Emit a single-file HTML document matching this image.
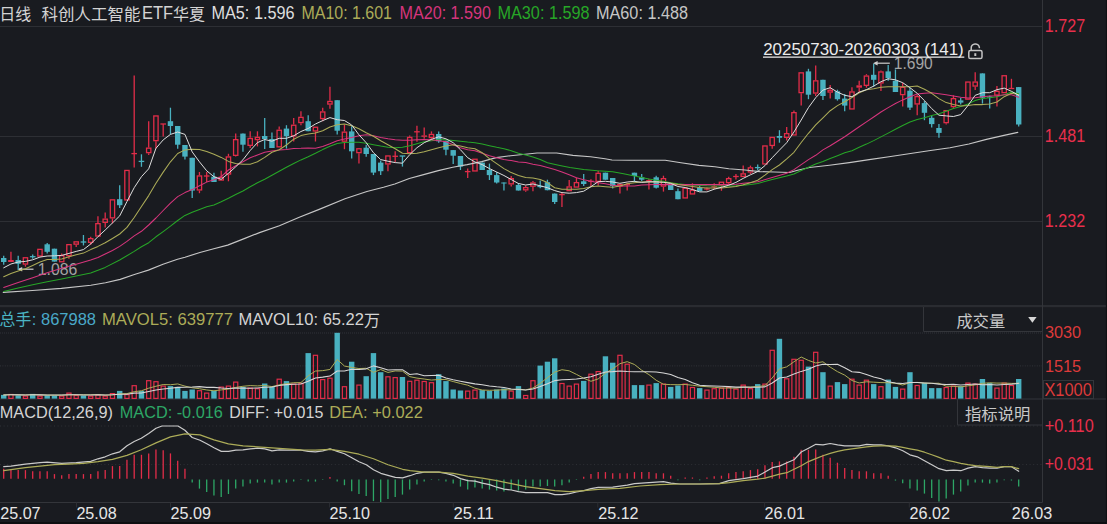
<!DOCTYPE html>
<html><head><meta charset="utf-8"><title>chart</title>
<style>html,body{margin:0;padding:0;background:#191b20;overflow:hidden}svg{display:block}text{font-family:"Liberation Sans",sans-serif;white-space:pre}</style></head>
<body>
<svg width="1107" height="524" viewBox="0 0 1107 524" font-family="'Liberation Sans', sans-serif">
<rect width="1107" height="524" fill="#191b20"/>
<line x1="0" y1="26.5" x2="1042.5" y2="26.5" stroke="#2d2f34" stroke-width="1"/>
<line x1="0" y1="136.5" x2="1042.5" y2="136.5" stroke="#2d2f34" stroke-width="1"/>
<line x1="0" y1="221.5" x2="1042.5" y2="221.5" stroke="#2d2f34" stroke-width="1"/>
<rect x="0" y="305" width="1107" height="2.2" fill="#2a2c31"/>
<line x1="1042.5" y1="0" x2="1042.5" y2="502.5" stroke="#33353a" stroke-width="1"/>
<line x1="0" y1="333" x2="1042.5" y2="333" stroke="#313338" stroke-width="1" stroke-dasharray="1 1"/>
<line x1="0" y1="365.9" x2="1042.5" y2="365.9" stroke="#313338" stroke-width="1" stroke-dasharray="1 1.4"/>
<line x1="0" y1="399" x2="1107" y2="399" stroke="#33353a" stroke-width="1"/>
<line x1="0" y1="426" x2="1042.5" y2="426" stroke="#303237" stroke-width="1" stroke-dasharray="1 2.6"/>
<line x1="0" y1="464.6" x2="1042.5" y2="464.6" stroke="#303237" stroke-width="1" stroke-dasharray="1 2.6"/>
<line x1="0" y1="502.5" x2="1042.5" y2="502.5" stroke="#33353a" stroke-width="1"/>
<line x1="76.5" y1="502.5" x2="76.5" y2="507.5" stroke="#2c2e33" stroke-width="1"/>
<line x1="170.5" y1="502.5" x2="170.5" y2="507.5" stroke="#2c2e33" stroke-width="1"/>
<line x1="329.6" y1="502.5" x2="329.6" y2="507.5" stroke="#2c2e33" stroke-width="1"/>
<line x1="453.3" y1="502.5" x2="453.3" y2="507.5" stroke="#2c2e33" stroke-width="1"/>
<line x1="597.8" y1="502.5" x2="597.8" y2="507.5" stroke="#2c2e33" stroke-width="1"/>
<line x1="764.6" y1="502.5" x2="764.6" y2="507.5" stroke="#2c2e33" stroke-width="1"/>
<line x1="909.3" y1="502.5" x2="909.3" y2="507.5" stroke="#2c2e33" stroke-width="1"/>
<line x1="1011.1" y1="502.5" x2="1011.1" y2="507.5" stroke="#2c2e33" stroke-width="1"/>
<line x1="19" y1="269.2" x2="33.5" y2="269.2" stroke="#cfcfcf" stroke-width="1.2"/>
<path d="M17.6,269.2 L22.2,266.9 L22.2,271.5 Z" fill="#cfcfcf"/>
<text x="37.8" y="275.3" fill="#a4a4a4" font-size="16.4" textLength="39.6" lengthAdjust="spacingAndGlyphs" text-anchor="start">1.086</text>
<line x1="875" y1="63.2" x2="889.8" y2="63.2" stroke="#cfcfcf" stroke-width="1.2"/>
<path d="M873,63.2 L877.6,60.9 L877.6,65.5 Z" fill="#cfcfcf"/>
<text x="893.8" y="69.4" fill="#a4a4a4" font-size="16.4" textLength="39" lengthAdjust="spacingAndGlyphs" text-anchor="start">1.690</text>
<line x1="3.7" y1="255.8" x2="3.7" y2="264.7" stroke="#49b1c0" stroke-width="1.3"/>
<rect x="1" y="258" width="5.4" height="4" fill="#49b1c0"/>
<line x1="10.95" y1="251.8" x2="10.95" y2="260" stroke="#e22d49" stroke-width="1.3"/>
<rect x="8.15" y="260" width="5.6" height="2" fill="#e22d49"/>
<line x1="18.2" y1="255.8" x2="18.2" y2="269.7" stroke="#49b1c0" stroke-width="1.3"/>
<rect x="15.5" y="260" width="5.4" height="3.8" fill="#49b1c0"/>
<line x1="25.45" y1="264.7" x2="25.45" y2="266.7" stroke="#e22d49" stroke-width="1.3"/>
<rect x="23.3" y="257.75" width="4.3" height="6.3" fill="none" stroke="#e22d49" stroke-width="1.3"/>
<line x1="32.7" y1="254.4" x2="32.7" y2="258.7" stroke="#49b1c0" stroke-width="1.3"/>
<line x1="29.9" y1="256.7" x2="35.5" y2="256.7" stroke="#49b1c0" stroke-width="1.3"/>
<rect x="37.8" y="249.35" width="4.3" height="6.7" fill="none" stroke="#e22d49" stroke-width="1.3"/>
<line x1="47.2" y1="243" x2="47.2" y2="253.6" stroke="#49b1c0" stroke-width="1.3"/>
<rect x="44.5" y="244.3" width="5.4" height="7.5" fill="#49b1c0"/>
<line x1="54.45" y1="248.7" x2="54.45" y2="261.6" stroke="#49b1c0" stroke-width="1.3"/>
<rect x="51.75" y="248.7" width="5.4" height="12.9" fill="#49b1c0"/>
<line x1="61.7" y1="253.4" x2="61.7" y2="255" stroke="#e22d49" stroke-width="1.3"/>
<rect x="59.55" y="255.65" width="4.3" height="6.1" fill="none" stroke="#e22d49" stroke-width="1.3"/>
<line x1="68.95" y1="256.3" x2="68.95" y2="258.7" stroke="#e22d49" stroke-width="1.3"/>
<rect x="66.8" y="244.65" width="4.3" height="11" fill="none" stroke="#e22d49" stroke-width="1.3"/>
<line x1="76.2" y1="244.8" x2="76.2" y2="247" stroke="#e22d49" stroke-width="1.3"/>
<rect x="74.05" y="241.85" width="4.3" height="2.3" fill="none" stroke="#e22d49" stroke-width="1.3"/>
<line x1="83.45" y1="235" x2="83.45" y2="245.4" stroke="#49b1c0" stroke-width="1.3"/>
<line x1="80.65" y1="242" x2="86.25" y2="242" stroke="#49b1c0" stroke-width="1.3"/>
<line x1="90.7" y1="236.7" x2="90.7" y2="238" stroke="#e22d49" stroke-width="1.3"/>
<line x1="90.7" y1="243" x2="90.7" y2="244.7" stroke="#e22d49" stroke-width="1.3"/>
<rect x="88.55" y="238.65" width="4.3" height="3.7" fill="none" stroke="#e22d49" stroke-width="1.3"/>
<line x1="97.95" y1="216.3" x2="97.95" y2="223" stroke="#e22d49" stroke-width="1.3"/>
<rect x="95.8" y="223.65" width="4.3" height="12.4" fill="none" stroke="#e22d49" stroke-width="1.3"/>
<line x1="105.2" y1="212.5" x2="105.2" y2="218.5" stroke="#e22d49" stroke-width="1.3"/>
<line x1="105.2" y1="223" x2="105.2" y2="227.4" stroke="#e22d49" stroke-width="1.3"/>
<rect x="103.05" y="219.15" width="4.3" height="3.2" fill="none" stroke="#e22d49" stroke-width="1.3"/>
<line x1="112.45" y1="218.5" x2="112.45" y2="223.4" stroke="#e22d49" stroke-width="1.3"/>
<rect x="110.3" y="199.85" width="4.3" height="18" fill="none" stroke="#e22d49" stroke-width="1.3"/>
<line x1="119.7" y1="185.3" x2="119.7" y2="208" stroke="#49b1c0" stroke-width="1.3"/>
<rect x="117" y="199.2" width="5.4" height="6" fill="#49b1c0"/>
<rect x="124.8" y="170.45" width="4.3" height="29.5" fill="none" stroke="#e22d49" stroke-width="1.3"/>
<line x1="134.2" y1="75.5" x2="134.2" y2="167.4" stroke="#e22d49" stroke-width="1.3"/>
<line x1="131.4" y1="153.6" x2="137" y2="153.6" stroke="#e22d49" stroke-width="1.3"/>
<line x1="141.45" y1="154.3" x2="141.45" y2="166.8" stroke="#49b1c0" stroke-width="1.3"/>
<line x1="138.65" y1="161.4" x2="144.25" y2="161.4" stroke="#49b1c0" stroke-width="1.3"/>
<line x1="148.7" y1="121.2" x2="148.7" y2="147.5" stroke="#e22d49" stroke-width="1.3"/>
<line x1="148.7" y1="153.3" x2="148.7" y2="154.9" stroke="#e22d49" stroke-width="1.3"/>
<rect x="146.55" y="148.15" width="4.3" height="4.5" fill="none" stroke="#e22d49" stroke-width="1.3"/>
<line x1="155.95" y1="141.3" x2="155.95" y2="148.7" stroke="#e22d49" stroke-width="1.3"/>
<rect x="153.8" y="115.95" width="4.3" height="24.7" fill="none" stroke="#e22d49" stroke-width="1.3"/>
<line x1="163.2" y1="124" x2="163.2" y2="136.5" stroke="#e22d49" stroke-width="1.3"/>
<line x1="160.4" y1="124" x2="166" y2="124" stroke="#e22d49" stroke-width="1.3"/>
<line x1="170.45" y1="107.7" x2="170.45" y2="134.5" stroke="#49b1c0" stroke-width="1.3"/>
<rect x="167.75" y="121.2" width="5.4" height="4.8" fill="#49b1c0"/>
<line x1="177.7" y1="126" x2="177.7" y2="148.7" stroke="#49b1c0" stroke-width="1.3"/>
<rect x="175" y="126" width="5.4" height="18.7" fill="#49b1c0"/>
<line x1="184.95" y1="145" x2="184.95" y2="159.6" stroke="#49b1c0" stroke-width="1.3"/>
<rect x="182.25" y="145" width="5.4" height="11.6" fill="#49b1c0"/>
<line x1="192.2" y1="157.8" x2="192.2" y2="198" stroke="#49b1c0" stroke-width="1.3"/>
<rect x="189.5" y="157.8" width="5.4" height="32.8" fill="#49b1c0"/>
<line x1="199.45" y1="172" x2="199.45" y2="175.3" stroke="#e22d49" stroke-width="1.3"/>
<line x1="199.45" y1="190.6" x2="199.45" y2="193.2" stroke="#e22d49" stroke-width="1.3"/>
<rect x="197.3" y="175.95" width="4.3" height="14" fill="none" stroke="#e22d49" stroke-width="1.3"/>
<line x1="206.7" y1="172" x2="206.7" y2="182" stroke="#e22d49" stroke-width="1.3"/>
<line x1="203.9" y1="176" x2="209.5" y2="176" stroke="#e22d49" stroke-width="1.3"/>
<line x1="213.95" y1="172.7" x2="213.95" y2="182" stroke="#49b1c0" stroke-width="1.3"/>
<rect x="211.25" y="176.7" width="5.4" height="5.3" fill="#49b1c0"/>
<line x1="221.2" y1="170.8" x2="221.2" y2="176.7" stroke="#e22d49" stroke-width="1.3"/>
<rect x="219.05" y="177.35" width="4.3" height="2.7" fill="none" stroke="#e22d49" stroke-width="1.3"/>
<line x1="228.45" y1="153.8" x2="228.45" y2="156.3" stroke="#e22d49" stroke-width="1.3"/>
<line x1="228.45" y1="174.7" x2="228.45" y2="181.3" stroke="#e22d49" stroke-width="1.3"/>
<rect x="226.3" y="156.95" width="4.3" height="17.1" fill="none" stroke="#e22d49" stroke-width="1.3"/>
<line x1="235.7" y1="133.6" x2="235.7" y2="139" stroke="#e22d49" stroke-width="1.3"/>
<line x1="235.7" y1="156" x2="235.7" y2="156.4" stroke="#e22d49" stroke-width="1.3"/>
<rect x="233.55" y="139.65" width="4.3" height="15.7" fill="none" stroke="#e22d49" stroke-width="1.3"/>
<line x1="242.95" y1="133.6" x2="242.95" y2="151.8" stroke="#49b1c0" stroke-width="1.3"/>
<rect x="240.25" y="133.6" width="5.4" height="11.1" fill="#49b1c0"/>
<line x1="250.2" y1="131.3" x2="250.2" y2="137.8" stroke="#e22d49" stroke-width="1.3"/>
<line x1="250.2" y1="146" x2="250.2" y2="148" stroke="#e22d49" stroke-width="1.3"/>
<rect x="248.05" y="138.45" width="4.3" height="6.9" fill="none" stroke="#e22d49" stroke-width="1.3"/>
<line x1="257.45" y1="131.3" x2="257.45" y2="136.7" stroke="#e22d49" stroke-width="1.3"/>
<line x1="257.45" y1="140.2" x2="257.45" y2="146.4" stroke="#e22d49" stroke-width="1.3"/>
<rect x="255.3" y="137.35" width="4.3" height="2.2" fill="none" stroke="#e22d49" stroke-width="1.3"/>
<line x1="264.7" y1="118" x2="264.7" y2="149" stroke="#49b1c0" stroke-width="1.3"/>
<rect x="262" y="136" width="5.4" height="3" fill="#49b1c0"/>
<line x1="271.95" y1="132.5" x2="271.95" y2="148" stroke="#49b1c0" stroke-width="1.3"/>
<rect x="269.25" y="139" width="5.4" height="9" fill="#49b1c0"/>
<line x1="279.2" y1="126.6" x2="279.2" y2="129.6" stroke="#e22d49" stroke-width="1.3"/>
<rect x="277.05" y="130.25" width="4.3" height="16.6" fill="none" stroke="#e22d49" stroke-width="1.3"/>
<line x1="286.45" y1="125.2" x2="286.45" y2="148.6" stroke="#49b1c0" stroke-width="1.3"/>
<rect x="283.75" y="128.6" width="5.4" height="7.6" fill="#49b1c0"/>
<line x1="293.7" y1="118" x2="293.7" y2="124.6" stroke="#e22d49" stroke-width="1.3"/>
<line x1="293.7" y1="136.5" x2="293.7" y2="141.5" stroke="#e22d49" stroke-width="1.3"/>
<rect x="291.55" y="125.25" width="4.3" height="10.6" fill="none" stroke="#e22d49" stroke-width="1.3"/>
<line x1="300.95" y1="111.3" x2="300.95" y2="116.7" stroke="#e22d49" stroke-width="1.3"/>
<line x1="300.95" y1="123.2" x2="300.95" y2="125.2" stroke="#e22d49" stroke-width="1.3"/>
<rect x="298.8" y="117.35" width="4.3" height="5.2" fill="none" stroke="#e22d49" stroke-width="1.3"/>
<line x1="308.2" y1="115.3" x2="308.2" y2="131.2" stroke="#49b1c0" stroke-width="1.3"/>
<rect x="305.5" y="121.2" width="5.4" height="10" fill="#49b1c0"/>
<line x1="315.45" y1="131.6" x2="315.45" y2="141.5" stroke="#e22d49" stroke-width="1.3"/>
<rect x="313.3" y="127.25" width="4.3" height="3.7" fill="none" stroke="#e22d49" stroke-width="1.3"/>
<line x1="322.7" y1="107.7" x2="322.7" y2="111.3" stroke="#e22d49" stroke-width="1.3"/>
<line x1="322.7" y1="119.2" x2="322.7" y2="121.2" stroke="#e22d49" stroke-width="1.3"/>
<rect x="320.55" y="111.95" width="4.3" height="6.6" fill="none" stroke="#e22d49" stroke-width="1.3"/>
<line x1="329.95" y1="86.8" x2="329.95" y2="100.8" stroke="#e22d49" stroke-width="1.3"/>
<line x1="329.95" y1="104.7" x2="329.95" y2="108.7" stroke="#e22d49" stroke-width="1.3"/>
<rect x="327.8" y="101.45" width="4.3" height="2.6" fill="none" stroke="#e22d49" stroke-width="1.3"/>
<line x1="337.2" y1="100.2" x2="337.2" y2="134.6" stroke="#49b1c0" stroke-width="1.3"/>
<rect x="334.5" y="100.2" width="5.4" height="30.5" fill="#49b1c0"/>
<line x1="344.45" y1="124.8" x2="344.45" y2="131.5" stroke="#e22d49" stroke-width="1.3"/>
<line x1="344.45" y1="141.8" x2="344.45" y2="149.2" stroke="#e22d49" stroke-width="1.3"/>
<rect x="342.3" y="132.15" width="4.3" height="9" fill="none" stroke="#e22d49" stroke-width="1.3"/>
<line x1="351.7" y1="126.2" x2="351.7" y2="158.6" stroke="#49b1c0" stroke-width="1.3"/>
<rect x="349" y="131.4" width="5.4" height="19.9" fill="#49b1c0"/>
<line x1="358.95" y1="153.3" x2="358.95" y2="163.6" stroke="#e22d49" stroke-width="1.3"/>
<rect x="356.8" y="148.75" width="4.3" height="3.9" fill="none" stroke="#e22d49" stroke-width="1.3"/>
<line x1="366.2" y1="144.7" x2="366.2" y2="156.7" stroke="#49b1c0" stroke-width="1.3"/>
<rect x="363.5" y="147.7" width="5.4" height="6.3" fill="#49b1c0"/>
<line x1="373.45" y1="154" x2="373.45" y2="175.1" stroke="#49b1c0" stroke-width="1.3"/>
<rect x="370.75" y="154" width="5.4" height="18.6" fill="#49b1c0"/>
<line x1="380.7" y1="160.6" x2="380.7" y2="175.1" stroke="#49b1c0" stroke-width="1.3"/>
<rect x="378" y="162.6" width="5.4" height="8.6" fill="#49b1c0"/>
<line x1="387.95" y1="164.6" x2="387.95" y2="171.2" stroke="#e22d49" stroke-width="1.3"/>
<rect x="385.8" y="155.95" width="4.3" height="8" fill="none" stroke="#e22d49" stroke-width="1.3"/>
<line x1="395.2" y1="151.3" x2="395.2" y2="162" stroke="#e22d49" stroke-width="1.3"/>
<line x1="392.4" y1="156.3" x2="398" y2="156.3" stroke="#e22d49" stroke-width="1.3"/>
<line x1="402.45" y1="156" x2="402.45" y2="166.6" stroke="#49b1c0" stroke-width="1.3"/>
<line x1="399.65" y1="156" x2="405.25" y2="156" stroke="#49b1c0" stroke-width="1.3"/>
<line x1="409.7" y1="135.4" x2="409.7" y2="136.8" stroke="#e22d49" stroke-width="1.3"/>
<rect x="407.55" y="137.45" width="4.3" height="15.2" fill="none" stroke="#e22d49" stroke-width="1.3"/>
<line x1="416.95" y1="125.8" x2="416.95" y2="141.7" stroke="#e22d49" stroke-width="1.3"/>
<line x1="414.15" y1="131.8" x2="419.75" y2="131.8" stroke="#e22d49" stroke-width="1.3"/>
<line x1="424.2" y1="127.4" x2="424.2" y2="135.4" stroke="#e22d49" stroke-width="1.3"/>
<line x1="424.2" y1="136.8" x2="424.2" y2="138.8" stroke="#e22d49" stroke-width="1.3"/>
<rect x="421.4" y="135.4" width="5.6" height="1.4" fill="#e22d49"/>
<line x1="431.45" y1="131.4" x2="431.45" y2="133.8" stroke="#e22d49" stroke-width="1.3"/>
<line x1="431.45" y1="138.2" x2="431.45" y2="139.8" stroke="#e22d49" stroke-width="1.3"/>
<rect x="429.3" y="134.45" width="4.3" height="3.1" fill="none" stroke="#e22d49" stroke-width="1.3"/>
<line x1="438.7" y1="131.4" x2="438.7" y2="142.7" stroke="#49b1c0" stroke-width="1.3"/>
<rect x="436" y="134" width="5.4" height="7.3" fill="#49b1c0"/>
<line x1="445.95" y1="140.8" x2="445.95" y2="155.3" stroke="#49b1c0" stroke-width="1.3"/>
<rect x="443.25" y="140.8" width="5.4" height="8.9" fill="#49b1c0"/>
<line x1="453.2" y1="150.1" x2="453.2" y2="164" stroke="#49b1c0" stroke-width="1.3"/>
<rect x="450.5" y="150.1" width="5.4" height="5.6" fill="#49b1c0"/>
<line x1="460.45" y1="156" x2="460.45" y2="170" stroke="#49b1c0" stroke-width="1.3"/>
<rect x="457.75" y="156" width="5.4" height="10.6" fill="#49b1c0"/>
<line x1="467.7" y1="168.6" x2="467.7" y2="178" stroke="#e22d49" stroke-width="1.3"/>
<line x1="464.9" y1="171.6" x2="470.5" y2="171.6" stroke="#e22d49" stroke-width="1.3"/>
<rect x="472.8" y="159.25" width="4.3" height="11.7" fill="none" stroke="#e22d49" stroke-width="1.3"/>
<line x1="482.2" y1="162.6" x2="482.2" y2="170" stroke="#49b1c0" stroke-width="1.3"/>
<rect x="479.5" y="162.6" width="5.4" height="7.4" fill="#49b1c0"/>
<line x1="489.45" y1="163.6" x2="489.45" y2="180" stroke="#49b1c0" stroke-width="1.3"/>
<rect x="486.75" y="170" width="5.4" height="5.1" fill="#49b1c0"/>
<line x1="496.7" y1="172" x2="496.7" y2="183.5" stroke="#49b1c0" stroke-width="1.3"/>
<rect x="494" y="175.1" width="5.4" height="7.4" fill="#49b1c0"/>
<line x1="503.95" y1="182.5" x2="503.95" y2="190.5" stroke="#49b1c0" stroke-width="1.3"/>
<rect x="501.25" y="182.5" width="5.4" height="1" fill="#49b1c0"/>
<line x1="511.2" y1="176" x2="511.2" y2="178" stroke="#e22d49" stroke-width="1.3"/>
<line x1="511.2" y1="184.5" x2="511.2" y2="186.5" stroke="#e22d49" stroke-width="1.3"/>
<rect x="509.05" y="178.65" width="4.3" height="5.2" fill="none" stroke="#e22d49" stroke-width="1.3"/>
<line x1="518.45" y1="183" x2="518.45" y2="190.5" stroke="#49b1c0" stroke-width="1.3"/>
<rect x="515.75" y="185" width="5.4" height="5.5" fill="#49b1c0"/>
<line x1="525.7" y1="185.5" x2="525.7" y2="187" stroke="#e22d49" stroke-width="1.3"/>
<line x1="525.7" y1="190.5" x2="525.7" y2="191.8" stroke="#e22d49" stroke-width="1.3"/>
<rect x="523.55" y="187.65" width="4.3" height="2.2" fill="none" stroke="#e22d49" stroke-width="1.3"/>
<line x1="532.95" y1="181" x2="532.95" y2="182.3" stroke="#e22d49" stroke-width="1.3"/>
<line x1="532.95" y1="186.8" x2="532.95" y2="191.2" stroke="#e22d49" stroke-width="1.3"/>
<rect x="530.8" y="182.95" width="4.3" height="3.2" fill="none" stroke="#e22d49" stroke-width="1.3"/>
<line x1="540.2" y1="180.6" x2="540.2" y2="188.2" stroke="#49b1c0" stroke-width="1.3"/>
<line x1="537.4" y1="186.5" x2="543" y2="186.5" stroke="#49b1c0" stroke-width="1.3"/>
<line x1="547.45" y1="179.7" x2="547.45" y2="190.3" stroke="#49b1c0" stroke-width="1.3"/>
<rect x="544.75" y="182.2" width="5.4" height="8" fill="#49b1c0"/>
<line x1="554.7" y1="193.6" x2="554.7" y2="204" stroke="#49b1c0" stroke-width="1.3"/>
<rect x="552" y="193.6" width="5.4" height="8.4" fill="#49b1c0"/>
<line x1="561.95" y1="192.6" x2="561.95" y2="207.1" stroke="#e22d49" stroke-width="1.3"/>
<line x1="559.15" y1="194.6" x2="564.75" y2="194.6" stroke="#e22d49" stroke-width="1.3"/>
<line x1="569.2" y1="180" x2="569.2" y2="186.3" stroke="#e22d49" stroke-width="1.3"/>
<rect x="567.05" y="186.95" width="4.3" height="3.7" fill="none" stroke="#e22d49" stroke-width="1.3"/>
<line x1="576.45" y1="177.7" x2="576.45" y2="182" stroke="#e22d49" stroke-width="1.3"/>
<rect x="574.3" y="182.65" width="4.3" height="4.4" fill="none" stroke="#e22d49" stroke-width="1.3"/>
<line x1="583.7" y1="174" x2="583.7" y2="186" stroke="#49b1c0" stroke-width="1.3"/>
<rect x="581" y="181.3" width="5.4" height="2.7" fill="#49b1c0"/>
<line x1="590.95" y1="179.3" x2="590.95" y2="186.7" stroke="#e22d49" stroke-width="1.3"/>
<line x1="588.15" y1="181.3" x2="593.75" y2="181.3" stroke="#e22d49" stroke-width="1.3"/>
<line x1="598.2" y1="170.8" x2="598.2" y2="172.7" stroke="#e22d49" stroke-width="1.3"/>
<line x1="598.2" y1="182" x2="598.2" y2="185.5" stroke="#e22d49" stroke-width="1.3"/>
<rect x="596.05" y="173.35" width="4.3" height="8" fill="none" stroke="#e22d49" stroke-width="1.3"/>
<line x1="605.45" y1="172.7" x2="605.45" y2="179.7" stroke="#49b1c0" stroke-width="1.3"/>
<rect x="602.75" y="172.7" width="5.4" height="7" fill="#49b1c0"/>
<line x1="612.7" y1="178" x2="612.7" y2="188.6" stroke="#49b1c0" stroke-width="1.3"/>
<rect x="610" y="178" width="5.4" height="8" fill="#49b1c0"/>
<line x1="619.95" y1="186.7" x2="619.95" y2="193.6" stroke="#e22d49" stroke-width="1.3"/>
<rect x="617.8" y="184.65" width="4.3" height="1.4" fill="none" stroke="#e22d49" stroke-width="1.3"/>
<line x1="627.2" y1="182.7" x2="627.2" y2="190.6" stroke="#e22d49" stroke-width="1.3"/>
<line x1="624.4" y1="184.7" x2="630" y2="184.7" stroke="#e22d49" stroke-width="1.3"/>
<line x1="634.45" y1="172.7" x2="634.45" y2="182" stroke="#49b1c0" stroke-width="1.3"/>
<rect x="631.75" y="172.7" width="5.4" height="3.3" fill="#49b1c0"/>
<line x1="641.7" y1="174" x2="641.7" y2="181.3" stroke="#49b1c0" stroke-width="1.3"/>
<rect x="639" y="177.3" width="5.4" height="2.4" fill="#49b1c0"/>
<line x1="648.95" y1="178.7" x2="648.95" y2="189.6" stroke="#e22d49" stroke-width="1.3"/>
<line x1="646.15" y1="180.7" x2="651.75" y2="180.7" stroke="#e22d49" stroke-width="1.3"/>
<line x1="656.2" y1="175.7" x2="656.2" y2="188.6" stroke="#49b1c0" stroke-width="1.3"/>
<rect x="653.5" y="177.3" width="5.4" height="10.4" fill="#49b1c0"/>
<line x1="663.45" y1="175.7" x2="663.45" y2="178" stroke="#e22d49" stroke-width="1.3"/>
<line x1="663.45" y1="186.7" x2="663.45" y2="191.6" stroke="#e22d49" stroke-width="1.3"/>
<rect x="661.3" y="178.65" width="4.3" height="7.4" fill="none" stroke="#e22d49" stroke-width="1.3"/>
<line x1="670.7" y1="184.7" x2="670.7" y2="190" stroke="#49b1c0" stroke-width="1.3"/>
<rect x="668" y="184.7" width="5.4" height="5.3" fill="#49b1c0"/>
<line x1="677.95" y1="188.6" x2="677.95" y2="199.2" stroke="#49b1c0" stroke-width="1.3"/>
<rect x="675.25" y="191.2" width="5.4" height="8" fill="#49b1c0"/>
<rect x="683.05" y="188.35" width="4.3" height="9.6" fill="none" stroke="#e22d49" stroke-width="1.3"/>
<line x1="692.45" y1="183.3" x2="692.45" y2="189.6" stroke="#e22d49" stroke-width="1.3"/>
<rect x="690.3" y="190.25" width="4.3" height="3.7" fill="none" stroke="#e22d49" stroke-width="1.3"/>
<line x1="699.7" y1="185.7" x2="699.7" y2="191.2" stroke="#49b1c0" stroke-width="1.3"/>
<rect x="697" y="187.3" width="5.4" height="3.9" fill="#49b1c0"/>
<line x1="706.95" y1="187.6" x2="706.95" y2="190.4" stroke="#e22d49" stroke-width="1.3"/>
<line x1="704.15" y1="189" x2="709.75" y2="189" stroke="#e22d49" stroke-width="1.3"/>
<line x1="714.2" y1="183.3" x2="714.2" y2="189.2" stroke="#e22d49" stroke-width="1.3"/>
<line x1="711.4" y1="186.7" x2="717" y2="186.7" stroke="#e22d49" stroke-width="1.3"/>
<line x1="721.45" y1="185.6" x2="721.45" y2="190.8" stroke="#e22d49" stroke-width="1.3"/>
<rect x="719.3" y="182.25" width="4.3" height="2.7" fill="none" stroke="#e22d49" stroke-width="1.3"/>
<line x1="728.7" y1="176.7" x2="728.7" y2="178" stroke="#e22d49" stroke-width="1.3"/>
<line x1="728.7" y1="183.3" x2="728.7" y2="184.7" stroke="#e22d49" stroke-width="1.3"/>
<rect x="726.55" y="178.65" width="4.3" height="4" fill="none" stroke="#e22d49" stroke-width="1.3"/>
<line x1="735.95" y1="174" x2="735.95" y2="179.5" stroke="#e22d49" stroke-width="1.3"/>
<line x1="733.15" y1="176.5" x2="738.75" y2="176.5" stroke="#e22d49" stroke-width="1.3"/>
<line x1="743.2" y1="165.6" x2="743.2" y2="173.2" stroke="#e22d49" stroke-width="1.3"/>
<rect x="741.05" y="173.85" width="4.3" height="2.6" fill="none" stroke="#e22d49" stroke-width="1.3"/>
<line x1="750.45" y1="165.6" x2="750.45" y2="167.2" stroke="#e22d49" stroke-width="1.3"/>
<line x1="750.45" y1="172.6" x2="750.45" y2="174" stroke="#e22d49" stroke-width="1.3"/>
<rect x="748.3" y="167.85" width="4.3" height="4.1" fill="none" stroke="#e22d49" stroke-width="1.3"/>
<line x1="757.7" y1="164.6" x2="757.7" y2="170.6" stroke="#49b1c0" stroke-width="1.3"/>
<line x1="754.9" y1="167.6" x2="760.5" y2="167.6" stroke="#49b1c0" stroke-width="1.3"/>
<rect x="762.8" y="145.95" width="4.3" height="18" fill="none" stroke="#e22d49" stroke-width="1.3"/>
<line x1="772.2" y1="146.1" x2="772.2" y2="148.7" stroke="#e22d49" stroke-width="1.3"/>
<rect x="770.05" y="137.45" width="4.3" height="8" fill="none" stroke="#e22d49" stroke-width="1.3"/>
<line x1="779.45" y1="130.2" x2="779.45" y2="142.7" stroke="#49b1c0" stroke-width="1.3"/>
<rect x="776.75" y="136" width="5.4" height="1.8" fill="#49b1c0"/>
<line x1="786.7" y1="127" x2="786.7" y2="133" stroke="#e22d49" stroke-width="1.3"/>
<line x1="786.7" y1="138" x2="786.7" y2="140.6" stroke="#e22d49" stroke-width="1.3"/>
<rect x="784.55" y="133.65" width="4.3" height="3.7" fill="none" stroke="#e22d49" stroke-width="1.3"/>
<line x1="793.95" y1="110.5" x2="793.95" y2="112" stroke="#e22d49" stroke-width="1.3"/>
<rect x="791.8" y="112.65" width="4.3" height="22.3" fill="none" stroke="#e22d49" stroke-width="1.3"/>
<line x1="801.2" y1="93.3" x2="801.2" y2="105.6" stroke="#e22d49" stroke-width="1.3"/>
<rect x="799.05" y="72.85" width="4.3" height="19.8" fill="none" stroke="#e22d49" stroke-width="1.3"/>
<line x1="808.45" y1="68.8" x2="808.45" y2="99.2" stroke="#49b1c0" stroke-width="1.3"/>
<rect x="805.75" y="71.4" width="5.4" height="23.3" fill="#49b1c0"/>
<line x1="815.7" y1="65.4" x2="815.7" y2="80.2" stroke="#e22d49" stroke-width="1.3"/>
<line x1="815.7" y1="93.7" x2="815.7" y2="96" stroke="#e22d49" stroke-width="1.3"/>
<rect x="813.55" y="80.85" width="4.3" height="12.2" fill="none" stroke="#e22d49" stroke-width="1.3"/>
<line x1="822.95" y1="79.8" x2="822.95" y2="100" stroke="#49b1c0" stroke-width="1.3"/>
<rect x="820.25" y="79.8" width="5.4" height="16.2" fill="#49b1c0"/>
<line x1="830.2" y1="85" x2="830.2" y2="89.6" stroke="#e22d49" stroke-width="1.3"/>
<line x1="830.2" y1="92.7" x2="830.2" y2="98.4" stroke="#e22d49" stroke-width="1.3"/>
<rect x="828.05" y="90.25" width="4.3" height="1.8" fill="none" stroke="#e22d49" stroke-width="1.3"/>
<line x1="837.45" y1="89.7" x2="837.45" y2="100.6" stroke="#49b1c0" stroke-width="1.3"/>
<rect x="834.75" y="91.3" width="5.4" height="7.9" fill="#49b1c0"/>
<line x1="844.7" y1="94" x2="844.7" y2="111.2" stroke="#49b1c0" stroke-width="1.3"/>
<rect x="842" y="98.6" width="5.4" height="7" fill="#49b1c0"/>
<line x1="851.95" y1="87.3" x2="851.95" y2="91.3" stroke="#e22d49" stroke-width="1.3"/>
<rect x="849.8" y="91.95" width="4.3" height="17" fill="none" stroke="#e22d49" stroke-width="1.3"/>
<line x1="859.2" y1="80.8" x2="859.2" y2="85.3" stroke="#e22d49" stroke-width="1.3"/>
<line x1="859.2" y1="87.7" x2="859.2" y2="92" stroke="#e22d49" stroke-width="1.3"/>
<rect x="856.4" y="85.3" width="5.6" height="2.4" fill="#e22d49"/>
<line x1="866.45" y1="74.2" x2="866.45" y2="75.4" stroke="#e22d49" stroke-width="1.3"/>
<line x1="866.45" y1="86" x2="866.45" y2="87.7" stroke="#e22d49" stroke-width="1.3"/>
<rect x="864.3" y="76.05" width="4.3" height="9.3" fill="none" stroke="#e22d49" stroke-width="1.3"/>
<line x1="873.7" y1="63.7" x2="873.7" y2="86.7" stroke="#49b1c0" stroke-width="1.3"/>
<rect x="871" y="74.8" width="5.4" height="5" fill="#49b1c0"/>
<line x1="880.95" y1="70.5" x2="880.95" y2="71.3" stroke="#e22d49" stroke-width="1.3"/>
<line x1="880.95" y1="83.6" x2="880.95" y2="91.1" stroke="#e22d49" stroke-width="1.3"/>
<rect x="878.8" y="71.95" width="4.3" height="11" fill="none" stroke="#e22d49" stroke-width="1.3"/>
<line x1="888.2" y1="64.9" x2="888.2" y2="80.8" stroke="#49b1c0" stroke-width="1.3"/>
<rect x="885.5" y="71.4" width="5.4" height="6.8" fill="#49b1c0"/>
<line x1="895.45" y1="69.4" x2="895.45" y2="92" stroke="#49b1c0" stroke-width="1.3"/>
<rect x="892.75" y="80.8" width="5.4" height="11.2" fill="#49b1c0"/>
<line x1="902.7" y1="82.7" x2="902.7" y2="86.7" stroke="#e22d49" stroke-width="1.3"/>
<line x1="902.7" y1="95.3" x2="902.7" y2="106.6" stroke="#e22d49" stroke-width="1.3"/>
<rect x="900.55" y="87.35" width="4.3" height="7.3" fill="none" stroke="#e22d49" stroke-width="1.3"/>
<line x1="909.95" y1="87.7" x2="909.95" y2="110" stroke="#49b1c0" stroke-width="1.3"/>
<rect x="907.25" y="90.7" width="5.4" height="16.9" fill="#49b1c0"/>
<line x1="917.2" y1="94.7" x2="917.2" y2="96" stroke="#e22d49" stroke-width="1.3"/>
<line x1="917.2" y1="104.6" x2="917.2" y2="115.3" stroke="#e22d49" stroke-width="1.3"/>
<rect x="915.05" y="96.65" width="4.3" height="7.3" fill="none" stroke="#e22d49" stroke-width="1.3"/>
<line x1="924.45" y1="101.1" x2="924.45" y2="120.2" stroke="#49b1c0" stroke-width="1.3"/>
<rect x="921.75" y="103.1" width="5.4" height="9.7" fill="#49b1c0"/>
<line x1="931.7" y1="115.5" x2="931.7" y2="127.5" stroke="#49b1c0" stroke-width="1.3"/>
<rect x="929" y="117.8" width="5.4" height="6.3" fill="#49b1c0"/>
<line x1="938.95" y1="123.9" x2="938.95" y2="137.8" stroke="#49b1c0" stroke-width="1.3"/>
<rect x="936.25" y="128" width="5.4" height="4.9" fill="#49b1c0"/>
<line x1="946.2" y1="123.3" x2="946.2" y2="124.5" stroke="#e22d49" stroke-width="1.3"/>
<rect x="944.05" y="110.65" width="4.3" height="12" fill="none" stroke="#e22d49" stroke-width="1.3"/>
<line x1="953.45" y1="95.3" x2="953.45" y2="98" stroke="#e22d49" stroke-width="1.3"/>
<line x1="953.45" y1="107.2" x2="953.45" y2="108.6" stroke="#e22d49" stroke-width="1.3"/>
<rect x="951.3" y="98.65" width="4.3" height="7.9" fill="none" stroke="#e22d49" stroke-width="1.3"/>
<line x1="960.7" y1="98" x2="960.7" y2="104.6" stroke="#49b1c0" stroke-width="1.3"/>
<rect x="958" y="100.4" width="5.4" height="2.2" fill="#49b1c0"/>
<rect x="965.8" y="82.05" width="4.3" height="17.1" fill="none" stroke="#e22d49" stroke-width="1.3"/>
<line x1="975.2" y1="72.2" x2="975.2" y2="81.4" stroke="#e22d49" stroke-width="1.3"/>
<line x1="975.2" y1="86.7" x2="975.2" y2="90" stroke="#e22d49" stroke-width="1.3"/>
<rect x="973.05" y="82.05" width="4.3" height="4" fill="none" stroke="#e22d49" stroke-width="1.3"/>
<line x1="982.45" y1="73.4" x2="982.45" y2="103.6" stroke="#49b1c0" stroke-width="1.3"/>
<rect x="979.75" y="73.4" width="5.4" height="24.3" fill="#49b1c0"/>
<line x1="989.7" y1="95.7" x2="989.7" y2="108.6" stroke="#49b1c0" stroke-width="1.3"/>
<rect x="987" y="96.5" width="5.4" height="1" fill="#49b1c0"/>
<line x1="996.95" y1="86.1" x2="996.95" y2="90.7" stroke="#e22d49" stroke-width="1.3"/>
<line x1="996.95" y1="95.7" x2="996.95" y2="106.6" stroke="#e22d49" stroke-width="1.3"/>
<rect x="994.8" y="91.35" width="4.3" height="3.7" fill="none" stroke="#e22d49" stroke-width="1.3"/>
<rect x="1002.05" y="75.75" width="4.3" height="16.9" fill="none" stroke="#e22d49" stroke-width="1.3"/>
<line x1="1011.45" y1="78.8" x2="1011.45" y2="88.9" stroke="#e22d49" stroke-width="1.3"/>
<line x1="1008.65" y1="88.5" x2="1014.25" y2="88.5" stroke="#e22d49" stroke-width="1.3"/>
<line x1="1018.7" y1="87.1" x2="1018.7" y2="126.5" stroke="#49b1c0" stroke-width="1.3"/>
<rect x="1016" y="87.1" width="5.4" height="37.4" fill="#49b1c0"/>
<polyline fill="none" stroke="#c6c6c6" stroke-width="1.15" stroke-linejoin="round" stroke-linecap="round" points="3.3,292.4 32.5,290.5 61.4,288.4 90.8,285.2 105.5,282.7 120.2,279.4 133.6,274.7 140,272.7 148.4,270.1 163,264.3 177.5,259.3 185,257.2 199.9,252.5 213.8,248.8 227.7,245.1 243.6,238.9 259.5,232.6 279.4,225.7 299.3,217.3 319.2,209.4 345,198.8 366.9,191.5 383.5,187.2 394.8,184 409.3,178.5 423.6,174.6 438.3,170.6 452.7,167.2 467.2,164.6 481.7,161.6 496.2,157.6 510.7,155.7 525.2,154.2 537,153 556.6,153 572.9,155.4 590.5,156.8 605,158.8 612,160 629.4,160.2 649.3,160.2 665.2,160.2 681,162.8 699,165.4 714.9,166.8 728.8,168.7 745,170 759.8,171.6 774.7,172 789.6,172.5 797.6,170.3 809.5,167.5 829.4,165.2 849.3,162.6 869.2,159.6 889,156.7 908.9,153.7 928.8,150.7 950,147.7 968.9,144 986.4,139.4 1004,135.4 1017.8,132.4"/>
<polyline fill="none" stroke="#27a627" stroke-width="1.05" stroke-linejoin="round" stroke-linecap="round" points="3.7,291.4 18.2,288.1 32.7,284.8 47.2,281.7 61.7,279 76.2,276.1 90.7,273.1 105.2,267.4 119.7,260 134.2,251.4 141.45,246.7 148.7,242.7 155.95,236.8 163.2,231.6 170.45,226.2 177.7,220.5 184.95,215.4 192.2,212.3 199.45,209.4 206.7,206.8 213.95,205 221.2,201.8 228.45,198.3 235.7,194.5 242.95,191 250.2,186.8 257.45,182.8 264.7,179.2 271.95,175.3 279.2,171.2 286.45,167.2 293.7,163.5 300.95,159.9 308.2,156.7 315.45,153.3 322.7,149.6 329.95,146.2 337.2,143.4 344.45,142.4 351.7,142.3 358.95,142.3 366.2,143.3 373.45,144.7 380.7,146.1 387.95,147.3 395.2,147.7 402.45,147.3 409.7,145.7 416.95,143.7 424.2,141.7 431.45,140.8 438.7,139.8 445.95,139.8 453.2,140.4 460.45,141.3 467.7,142.1 474.95,142.7 482.2,144.1 489.45,145.7 496.7,147.3 503.95,148.7 511.2,150.7 518.45,153.3 525.7,154.9 532.95,156.9 540.2,159.5 547.45,162.8 559.78,165.4 569.92,167.4 583.7,169.4 597.48,170.8 612.7,171.7 623.58,173.7 634.45,176.1 641.7,177.6 648.95,179 656.2,180.2 663.45,181.3 670.7,182.8 677.95,183.8 685.2,184.4 692.45,184.9 699.7,185.4 706.95,185.8 714.2,185.9 721.45,185.9 728.7,185.9 735.95,185.7 743.2,185.2 750.45,184.4 757.7,183.4 772.2,179.5 786.7,175.9 793.95,174 801.2,170.6 808.45,167.2 815.7,164 822.95,161.6 830.2,158.6 837.45,155.7 844.7,152.7 851.95,150.7 859.2,147.3 866.45,144.1 873.7,140.6 880.95,136.9 888.2,133.1 895.45,129.2 902.7,125.5 909.95,122.1 917.2,119.5 924.45,117.7 931.7,115.5 938.95,113.7 946.2,111.2 953.45,108.6 960.7,106.6 967.95,104 975.2,100.6 982.45,98.6 989.7,97.7 996.95,96.7 1004.2,94.7 1011.45,92.1 1018.7,93.7"/>
<polyline fill="none" stroke="#d6357c" stroke-width="1.05" stroke-linejoin="round" stroke-linecap="round" points="3.7,287.4 18.2,282.5 32.7,277.7 47.2,272.7 61.7,268.3 76.2,264.3 90.7,260 97.95,257.4 105.2,254 112.45,250.5 119.7,246.4 126.95,241.4 134.2,235.9 141.45,231.3 148.7,225 155.95,218 163.2,210.5 170.45,203.2 177.7,196.6 184.95,192.6 192.2,189.6 199.45,185.7 206.7,182.1 213.95,179.7 221.2,176.7 228.45,170 235.7,165.8 242.95,161.8 250.2,157.8 257.45,155 264.7,152.3 271.95,151 279.2,149.9 286.45,149.5 293.7,148.4 300.95,148.3 308.2,148 315.45,148.3 322.7,146.5 329.95,143.8 337.2,140.7 344.45,139 351.7,137.4 358.95,135.8 366.2,134.8 373.45,135.8 380.7,137.4 387.95,138.8 395.2,139.8 402.45,140.2 409.7,140.2 416.95,139.8 424.2,139.4 431.45,139.8 438.7,140.8 445.95,141.7 453.2,144.7 460.45,147.7 467.7,149.7 474.95,150.7 482.2,153.3 489.45,155.7 496.7,157.7 503.95,159.6 511.2,160.6 518.45,162 525.7,162.5 532.95,164.2 540.2,165.5 547.45,167.5 554.7,169.5 561.95,172 569.2,174.7 576.45,177.7 583.7,179.7 590.95,181.3 598.2,182.7 605.45,183.7 612.7,185.3 619.95,186 627.2,186 634.45,186 641.7,184.9 648.95,184.7 656.2,184.6 663.45,184.6 670.7,184.6 677.95,184.6 685.2,184.6 692.45,184.6 699.7,184.6 706.95,184.6 714.2,184.6 721.45,184.6 728.7,184.6 735.95,184.2 743.2,183.3 750.45,182.6 757.7,181.8 772.2,177.5 786.7,173.2 793.95,169.6 801.2,164.6 808.45,159.6 815.7,155.3 822.95,149.9 830.2,145.8 837.45,141.2 844.7,136.7 851.95,131.8 859.2,126.8 866.45,121.9 873.7,117 880.95,112 888.2,107.6 895.45,103.5 902.7,99.9 909.95,96.7 917.2,94 924.45,93.3 931.7,92.7 938.95,93.7 946.2,94.7 953.45,96 960.7,97.3 967.95,98 975.2,97.7 982.45,96.7 989.7,96 996.95,95.7 1004.2,94.7 1011.45,94.7 1018.7,97.3"/>
<polyline fill="none" stroke="#acac58" stroke-width="1.05" stroke-linejoin="round" stroke-linecap="round" points="3.7,276.7 10.95,273.4 18.2,271 25.45,268.7 32.7,265.4 39.95,262 47.2,259.4 54.45,259.4 61.7,259 68.95,256.7 76.2,254.7 83.45,253.1 90.7,249.6 97.95,246.4 105.2,242.7 112.45,238.5 119.7,234 126.95,227.4 134.2,217.5 141.45,206.5 148.7,195.6 155.95,183.3 163.2,172.1 170.45,161.8 177.7,153.5 184.95,149.9 192.2,149.3 199.45,149.5 206.7,151.5 213.95,154.3 221.2,157.4 228.45,161.4 235.7,163.4 242.95,164.2 250.2,164.2 257.45,161.8 264.7,157.4 271.95,152.3 279.2,149.8 286.45,145 293.7,139.2 300.95,135.6 308.2,134 315.45,132.9 322.7,130.8 329.95,127 337.2,124.8 344.45,124 351.7,125.8 358.95,128.8 366.2,132.8 373.45,136.2 380.7,140.8 387.95,144.7 395.2,148.7 402.45,153.3 409.7,153.7 416.95,153.3 424.2,151.7 431.45,149.7 438.7,147.7 445.95,146.1 453.2,144.7 460.45,146.1 467.7,147.7 474.95,148.7 482.2,152.7 489.45,158.6 496.7,163.6 503.95,168.6 511.2,172.6 518.45,175.5 525.7,177.5 532.95,178 540.2,179.6 547.45,182.6 554.7,187.7 561.95,189.2 569.2,189.2 576.45,189.2 583.7,188.6 590.95,186.7 598.2,186 605.45,186.7 612.7,187.3 619.95,186 627.2,183.7 634.45,182.7 641.7,182.1 648.95,181.7 656.2,181.9 663.45,182.2 670.7,183.1 677.95,184.6 685.2,185.4 692.45,186.4 699.7,187.5 706.95,187.9 714.2,188.1 721.45,187.9 728.7,187.3 735.95,186.4 743.2,184.8 750.45,182.7 757.7,180.2 764.95,175.1 772.2,169.6 779.45,165 786.7,158.8 793.95,152.3 801.2,142.5 808.45,133.3 815.7,124.9 822.95,117.9 830.2,110.7 837.45,105.6 844.7,101.8 851.95,97.5 859.2,92.7 866.45,89.7 873.7,88.7 880.95,87.3 888.2,86.7 895.45,86.7 902.7,86.7 909.95,86.7 917.2,86.1 924.45,89.3 931.7,93.3 938.95,98.6 946.2,102.6 953.45,104.6 960.7,106 967.95,105.6 975.2,104.6 982.45,104.6 989.7,104 996.95,102 1004.2,96.7 1011.45,93.3 1018.7,94.7"/>
<polyline fill="none" stroke="#dedede" stroke-width="1" stroke-linejoin="round" stroke-linecap="round" points="3.7,267.8 10.95,264 18.2,262 25.45,261.4 32.7,259.8 39.95,257.1 47.2,256 54.45,255.8 61.7,255.4 68.95,253.4 76.2,251.4 83.45,249.6 90.7,244 97.95,236.7 105.2,230 112.45,223 119.7,215.9 126.95,201.6 134.2,187.7 141.45,176.7 148.7,168.8 155.95,148.3 163.2,139.9 170.45,134.4 177.7,132 184.95,134.4 192.2,151.9 199.45,161.8 206.7,170.8 213.95,176.7 221.2,179.3 228.45,173.3 235.7,166.8 242.95,159.8 250.2,150.5 257.45,142.6 264.7,139.5 271.95,141.2 279.2,138.3 286.45,138.3 293.7,135.8 300.95,131.5 308.2,128.5 315.45,124 322.7,120.6 329.95,117.6 337.2,119.7 344.45,120.5 351.7,125 358.95,134.8 366.2,142.7 373.45,152.7 380.7,159.6 387.95,161.2 395.2,162.6 402.45,163.2 409.7,154.7 416.95,147.7 424.2,142.7 431.45,139.4 438.7,136.8 445.95,138.8 453.2,142.7 460.45,149.7 467.7,157.7 474.95,162 482.2,164.6 489.45,168.6 496.7,172 503.95,175.5 511.2,179.5 518.45,183.5 525.7,185 532.95,184 540.2,185.8 547.45,187.7 554.7,190.6 561.95,192.6 569.2,193.2 576.45,192.6 583.7,191.2 590.95,186.7 598.2,181.7 605.45,181.3 612.7,182 619.95,183.3 627.2,182 634.45,181.3 641.7,182.4 648.95,181.8 656.2,181.8 663.45,182.3 670.7,183.4 677.95,186.5 685.2,187.5 692.45,189.5 699.7,191.9 706.95,191.9 714.2,189.2 721.45,187.3 728.7,185.3 735.95,182.4 743.2,178.4 750.45,174.8 757.7,171.5 764.95,165.6 772.2,157.7 779.45,150.1 786.7,142.7 793.95,132 801.2,120 808.45,107.6 815.7,97.7 822.95,90.1 830.2,87.7 837.45,92.1 844.7,95.3 851.95,96.7 859.2,92.1 866.45,89.7 873.7,86.1 880.95,81.7 888.2,78.8 895.45,79.8 902.7,82.7 909.95,87.7 917.2,93.3 924.45,100.6 931.7,108.6 938.95,115.2 946.2,115.9 953.45,116.5 960.7,114.6 967.95,105.6 975.2,95.3 982.45,92.7 989.7,92.7 996.95,89.7 1004.2,88.1 1011.45,91.3 1018.7,95.3"/>
<rect x="1" y="394.9" width="5.4" height="3.7" fill="#49b1c0"/>
<rect x="8.88" y="394.5" width="4.15" height="3.9" fill="none" stroke="#e22d49" stroke-width="1.2"/>
<rect x="15.5" y="395.5" width="5.4" height="3.1" fill="#49b1c0"/>
<rect x="23.38" y="396.1" width="4.15" height="2.3" fill="none" stroke="#e22d49" stroke-width="1.2"/>
<rect x="30" y="393.9" width="5.4" height="4.7" fill="#49b1c0"/>
<rect x="37.88" y="396.1" width="4.15" height="2.3" fill="none" stroke="#e22d49" stroke-width="1.2"/>
<rect x="44.5" y="395.5" width="5.4" height="3.1" fill="#49b1c0"/>
<rect x="51.75" y="395.5" width="5.4" height="3.1" fill="#49b1c0"/>
<rect x="59.63" y="396.1" width="4.15" height="2.3" fill="none" stroke="#e22d49" stroke-width="1.2"/>
<rect x="66.88" y="393.1" width="4.15" height="5.3" fill="none" stroke="#e22d49" stroke-width="1.2"/>
<rect x="74.13" y="395.5" width="4.15" height="2.9" fill="none" stroke="#e22d49" stroke-width="1.2"/>
<rect x="80.75" y="395.5" width="5.4" height="3.1" fill="#49b1c0"/>
<rect x="88.63" y="396.1" width="4.15" height="2.3" fill="none" stroke="#e22d49" stroke-width="1.2"/>
<rect x="95.88" y="395.1" width="4.15" height="3.3" fill="none" stroke="#e22d49" stroke-width="1.2"/>
<rect x="103.13" y="396.1" width="4.15" height="2.3" fill="none" stroke="#e22d49" stroke-width="1.2"/>
<rect x="110.38" y="393.6" width="4.15" height="4.8" fill="none" stroke="#e22d49" stroke-width="1.2"/>
<rect x="117" y="390.9" width="5.4" height="7.7" fill="#49b1c0"/>
<rect x="124.88" y="394.6" width="4.15" height="3.8" fill="none" stroke="#e22d49" stroke-width="1.2"/>
<rect x="132.13" y="385.7" width="4.15" height="12.7" fill="none" stroke="#e22d49" stroke-width="1.2"/>
<rect x="138.75" y="390.9" width="5.4" height="7.7" fill="#49b1c0"/>
<rect x="146.63" y="380.7" width="4.15" height="17.7" fill="none" stroke="#e22d49" stroke-width="1.2"/>
<rect x="153.88" y="381.7" width="4.15" height="16.7" fill="none" stroke="#e22d49" stroke-width="1.2"/>
<rect x="161.13" y="386.1" width="4.15" height="12.3" fill="none" stroke="#e22d49" stroke-width="1.2"/>
<rect x="167.75" y="386.1" width="5.4" height="12.5" fill="#49b1c0"/>
<rect x="175" y="386.9" width="5.4" height="11.7" fill="#49b1c0"/>
<rect x="182.25" y="390.9" width="5.4" height="7.7" fill="#49b1c0"/>
<rect x="189.5" y="389.5" width="5.4" height="9.1" fill="#49b1c0"/>
<rect x="197.38" y="390.7" width="4.15" height="7.7" fill="none" stroke="#e22d49" stroke-width="1.2"/>
<rect x="204.63" y="393.1" width="4.15" height="5.3" fill="none" stroke="#e22d49" stroke-width="1.2"/>
<rect x="211.25" y="390.9" width="5.4" height="7.7" fill="#49b1c0"/>
<rect x="219.13" y="387.1" width="4.15" height="11.3" fill="none" stroke="#e22d49" stroke-width="1.2"/>
<rect x="226.38" y="386.1" width="4.15" height="12.3" fill="none" stroke="#e22d49" stroke-width="1.2"/>
<rect x="233.63" y="382.1" width="4.15" height="16.3" fill="none" stroke="#e22d49" stroke-width="1.2"/>
<rect x="240.25" y="386.9" width="5.4" height="11.7" fill="#49b1c0"/>
<rect x="248.13" y="388.1" width="4.15" height="10.3" fill="none" stroke="#e22d49" stroke-width="1.2"/>
<rect x="255.38" y="388.7" width="4.15" height="9.7" fill="none" stroke="#e22d49" stroke-width="1.2"/>
<rect x="262" y="383.5" width="5.4" height="15.1" fill="#49b1c0"/>
<rect x="269.25" y="386.9" width="5.4" height="11.7" fill="#49b1c0"/>
<rect x="277.13" y="379.2" width="4.15" height="19.2" fill="none" stroke="#e22d49" stroke-width="1.2"/>
<rect x="283.75" y="381.1" width="5.4" height="17.5" fill="#49b1c0"/>
<rect x="291.63" y="384.1" width="4.15" height="14.3" fill="none" stroke="#e22d49" stroke-width="1.2"/>
<rect x="298.88" y="383.5" width="4.15" height="14.9" fill="none" stroke="#e22d49" stroke-width="1.2"/>
<rect x="305.5" y="353.1" width="5.4" height="45.5" fill="#49b1c0"/>
<rect x="313.38" y="355.3" width="4.15" height="43.1" fill="none" stroke="#e22d49" stroke-width="1.2"/>
<rect x="320.63" y="379.6" width="4.15" height="18.8" fill="none" stroke="#e22d49" stroke-width="1.2"/>
<rect x="327.88" y="378.2" width="4.15" height="20.2" fill="none" stroke="#e22d49" stroke-width="1.2"/>
<rect x="334.5" y="332.8" width="5.4" height="65.8" fill="#49b1c0"/>
<rect x="342.38" y="386.7" width="4.15" height="11.7" fill="none" stroke="#e22d49" stroke-width="1.2"/>
<rect x="349" y="361.7" width="5.4" height="36.9" fill="#49b1c0"/>
<rect x="356.88" y="385.1" width="4.15" height="13.3" fill="none" stroke="#e22d49" stroke-width="1.2"/>
<rect x="363.5" y="376.2" width="5.4" height="22.4" fill="#49b1c0"/>
<rect x="370.75" y="353.1" width="5.4" height="45.5" fill="#49b1c0"/>
<rect x="378" y="372.2" width="5.4" height="26.4" fill="#49b1c0"/>
<rect x="385.88" y="376.8" width="4.15" height="21.6" fill="none" stroke="#e22d49" stroke-width="1.2"/>
<rect x="393.13" y="377.6" width="4.15" height="20.8" fill="none" stroke="#e22d49" stroke-width="1.2"/>
<rect x="399.75" y="377" width="5.4" height="21.6" fill="#49b1c0"/>
<rect x="407.63" y="381.3" width="4.15" height="17.1" fill="none" stroke="#e22d49" stroke-width="1.2"/>
<rect x="414.88" y="380.2" width="4.15" height="18.2" fill="none" stroke="#e22d49" stroke-width="1.2"/>
<rect x="422.13" y="381.5" width="4.15" height="16.9" fill="none" stroke="#e22d49" stroke-width="1.2"/>
<rect x="429.38" y="382.7" width="4.15" height="15.7" fill="none" stroke="#e22d49" stroke-width="1.2"/>
<rect x="436" y="374.2" width="5.4" height="24.4" fill="#49b1c0"/>
<rect x="443.25" y="381.1" width="5.4" height="17.5" fill="#49b1c0"/>
<rect x="450.5" y="389.5" width="5.4" height="9.1" fill="#49b1c0"/>
<rect x="457.75" y="390.5" width="5.4" height="8.1" fill="#49b1c0"/>
<rect x="465.63" y="391.1" width="4.15" height="7.3" fill="none" stroke="#e22d49" stroke-width="1.2"/>
<rect x="472.88" y="390.1" width="4.15" height="8.3" fill="none" stroke="#e22d49" stroke-width="1.2"/>
<rect x="479.5" y="390.1" width="5.4" height="8.5" fill="#49b1c0"/>
<rect x="486.75" y="390.9" width="5.4" height="7.7" fill="#49b1c0"/>
<rect x="494" y="389.5" width="5.4" height="9.1" fill="#49b1c0"/>
<rect x="501.25" y="388.5" width="5.4" height="10.1" fill="#49b1c0"/>
<rect x="509.13" y="391.1" width="4.15" height="7.3" fill="none" stroke="#e22d49" stroke-width="1.2"/>
<rect x="515.75" y="386.1" width="5.4" height="12.5" fill="#49b1c0"/>
<rect x="523.63" y="395.5" width="4.15" height="2.9" fill="none" stroke="#e22d49" stroke-width="1.2"/>
<rect x="530.88" y="380.7" width="4.15" height="17.7" fill="none" stroke="#e22d49" stroke-width="1.2"/>
<rect x="537.5" y="365.6" width="5.4" height="33" fill="#49b1c0"/>
<rect x="544.75" y="361.7" width="5.4" height="36.9" fill="#49b1c0"/>
<rect x="552" y="358.3" width="5.4" height="40.3" fill="#49b1c0"/>
<rect x="559.88" y="383.5" width="4.15" height="14.9" fill="none" stroke="#e22d49" stroke-width="1.2"/>
<rect x="567.13" y="386.1" width="4.15" height="12.3" fill="none" stroke="#e22d49" stroke-width="1.2"/>
<rect x="574.38" y="384.1" width="4.15" height="14.3" fill="none" stroke="#e22d49" stroke-width="1.2"/>
<rect x="581" y="380.9" width="5.4" height="17.7" fill="#49b1c0"/>
<rect x="588.88" y="374.2" width="4.15" height="24.2" fill="none" stroke="#e22d49" stroke-width="1.2"/>
<rect x="596.13" y="371.6" width="4.15" height="26.8" fill="none" stroke="#e22d49" stroke-width="1.2"/>
<rect x="602.75" y="356.3" width="5.4" height="42.3" fill="#49b1c0"/>
<rect x="610" y="362.7" width="5.4" height="35.9" fill="#49b1c0"/>
<rect x="617.88" y="355.3" width="4.15" height="43.1" fill="none" stroke="#e22d49" stroke-width="1.2"/>
<rect x="625.13" y="364.2" width="4.15" height="34.2" fill="none" stroke="#e22d49" stroke-width="1.2"/>
<rect x="631.75" y="385.1" width="5.4" height="13.5" fill="#49b1c0"/>
<rect x="639" y="385.1" width="5.4" height="13.5" fill="#49b1c0"/>
<rect x="646.88" y="385.1" width="4.15" height="13.3" fill="none" stroke="#e22d49" stroke-width="1.2"/>
<rect x="653.5" y="383.1" width="5.4" height="15.5" fill="#49b1c0"/>
<rect x="661.38" y="384.1" width="4.15" height="14.3" fill="none" stroke="#e22d49" stroke-width="1.2"/>
<rect x="668" y="386.9" width="5.4" height="11.7" fill="#49b1c0"/>
<rect x="675.25" y="385.5" width="5.4" height="13.1" fill="#49b1c0"/>
<rect x="683.13" y="384.1" width="4.15" height="14.3" fill="none" stroke="#e22d49" stroke-width="1.2"/>
<rect x="690.38" y="387.5" width="4.15" height="10.9" fill="none" stroke="#e22d49" stroke-width="1.2"/>
<rect x="697" y="388.1" width="5.4" height="10.5" fill="#49b1c0"/>
<rect x="704.88" y="390.1" width="4.15" height="8.3" fill="none" stroke="#e22d49" stroke-width="1.2"/>
<rect x="712.13" y="388.7" width="4.15" height="9.7" fill="none" stroke="#e22d49" stroke-width="1.2"/>
<rect x="719.38" y="388.1" width="4.15" height="10.3" fill="none" stroke="#e22d49" stroke-width="1.2"/>
<rect x="726.63" y="387.5" width="4.15" height="10.9" fill="none" stroke="#e22d49" stroke-width="1.2"/>
<rect x="733.88" y="389.1" width="4.15" height="9.3" fill="none" stroke="#e22d49" stroke-width="1.2"/>
<rect x="741.13" y="385.1" width="4.15" height="13.3" fill="none" stroke="#e22d49" stroke-width="1.2"/>
<rect x="748.38" y="388.7" width="4.15" height="9.7" fill="none" stroke="#e22d49" stroke-width="1.2"/>
<rect x="755" y="384.1" width="5.4" height="14.5" fill="#49b1c0"/>
<rect x="762.88" y="384.1" width="4.15" height="14.3" fill="none" stroke="#e22d49" stroke-width="1.2"/>
<rect x="770.13" y="350.3" width="4.15" height="48.1" fill="none" stroke="#e22d49" stroke-width="1.2"/>
<rect x="776.75" y="338.8" width="5.4" height="59.8" fill="#49b1c0"/>
<rect x="784.63" y="378.8" width="4.15" height="19.6" fill="none" stroke="#e22d49" stroke-width="1.2"/>
<rect x="791.88" y="359.3" width="4.15" height="39.1" fill="none" stroke="#e22d49" stroke-width="1.2"/>
<rect x="799.13" y="360.3" width="4.15" height="38.1" fill="none" stroke="#e22d49" stroke-width="1.2"/>
<rect x="805.75" y="366.6" width="5.4" height="32" fill="#49b1c0"/>
<rect x="813.63" y="352.3" width="4.15" height="46.1" fill="none" stroke="#e22d49" stroke-width="1.2"/>
<rect x="820.25" y="372.2" width="5.4" height="26.4" fill="#49b1c0"/>
<rect x="828.13" y="386.1" width="4.15" height="12.3" fill="none" stroke="#e22d49" stroke-width="1.2"/>
<rect x="834.75" y="382.1" width="5.4" height="16.5" fill="#49b1c0"/>
<rect x="842" y="384.1" width="5.4" height="14.5" fill="#49b1c0"/>
<rect x="849.88" y="379.2" width="4.15" height="19.2" fill="none" stroke="#e22d49" stroke-width="1.2"/>
<rect x="857.13" y="385.1" width="4.15" height="13.3" fill="none" stroke="#e22d49" stroke-width="1.2"/>
<rect x="864.38" y="380.2" width="4.15" height="18.2" fill="none" stroke="#e22d49" stroke-width="1.2"/>
<rect x="871" y="384.1" width="5.4" height="14.5" fill="#49b1c0"/>
<rect x="878.88" y="386.7" width="4.15" height="11.7" fill="none" stroke="#e22d49" stroke-width="1.2"/>
<rect x="885.5" y="379.6" width="5.4" height="19" fill="#49b1c0"/>
<rect x="892.75" y="386.9" width="5.4" height="11.7" fill="#49b1c0"/>
<rect x="900.63" y="389.1" width="4.15" height="9.3" fill="none" stroke="#e22d49" stroke-width="1.2"/>
<rect x="907.25" y="372.2" width="5.4" height="26.4" fill="#49b1c0"/>
<rect x="915.13" y="385.5" width="4.15" height="12.9" fill="none" stroke="#e22d49" stroke-width="1.2"/>
<rect x="921.75" y="382.9" width="5.4" height="15.7" fill="#49b1c0"/>
<rect x="929" y="388.1" width="5.4" height="10.5" fill="#49b1c0"/>
<rect x="936.25" y="388.1" width="5.4" height="10.5" fill="#49b1c0"/>
<rect x="944.13" y="387.5" width="4.15" height="10.9" fill="none" stroke="#e22d49" stroke-width="1.2"/>
<rect x="951.38" y="386.1" width="4.15" height="12.3" fill="none" stroke="#e22d49" stroke-width="1.2"/>
<rect x="958" y="386.1" width="5.4" height="12.5" fill="#49b1c0"/>
<rect x="965.88" y="383.1" width="4.15" height="15.3" fill="none" stroke="#e22d49" stroke-width="1.2"/>
<rect x="973.13" y="384.1" width="4.15" height="14.3" fill="none" stroke="#e22d49" stroke-width="1.2"/>
<rect x="979.75" y="379" width="5.4" height="19.6" fill="#49b1c0"/>
<rect x="987" y="382.9" width="5.4" height="15.7" fill="#49b1c0"/>
<rect x="994.88" y="388.1" width="4.15" height="10.3" fill="none" stroke="#e22d49" stroke-width="1.2"/>
<rect x="1002.13" y="383.1" width="4.15" height="15.3" fill="none" stroke="#e22d49" stroke-width="1.2"/>
<rect x="1009.38" y="385.5" width="4.15" height="12.9" fill="none" stroke="#e22d49" stroke-width="1.2"/>
<rect x="1016" y="379" width="5.4" height="19.6" fill="#49b1c0"/>
<polyline fill="none" stroke="#acac58" stroke-width="1" stroke-linejoin="round" stroke-linecap="round" points="3.7,394.9 10.95,394.7 18.2,394.82 25.45,394.94 32.7,394.74 39.95,394.86 47.2,395.18 54.45,395.18 61.7,395.18 68.95,394.9 76.2,394.78 83.45,394.78 90.7,394.78 97.95,394.58 105.2,395.18 112.45,394.8 119.7,393.88 126.95,393.58 134.2,391.7 141.45,390.78 148.7,388.2 155.95,386.24 163.2,384.54 170.45,384.74 177.7,383.94 184.95,386.1 192.2,387.78 199.45,388.7 206.7,389.98 213.95,390.78 221.2,389.9 228.45,389.1 235.7,387.38 242.95,386.26 250.2,385.58 257.45,385.9 264.7,385.5 271.95,386.58 279.2,384.92 286.45,383.64 293.7,382.72 300.95,382.6 308.2,375.84 315.45,371.06 322.7,370.64 329.95,369.46 337.2,359.44 344.45,366.04 351.7,367.44 358.95,368.54 366.2,368.26 373.45,372.32 380.7,369.54 387.95,372.44 395.2,370.94 402.45,371.1 409.7,376.62 416.95,378.1 424.2,379.04 431.45,380.06 438.7,379.5 445.95,379.58 453.2,381.56 460.45,383.48 467.7,385.16 474.95,388.22 482.2,390.02 489.45,390.3 496.7,390.1 503.95,389.7 511.2,389.9 518.45,389.1 525.7,389.9 532.95,388.02 540.2,383.44 547.45,377.68 554.7,372.12 561.95,369.72 569.2,370.8 576.45,374.38 583.7,378.22 590.95,381.28 598.2,378.9 605.45,373.06 612.7,368.9 619.95,363.66 627.2,361.66 634.45,364.48 641.7,370.24 648.95,374.6 656.2,380.28 663.45,384.26 670.7,384.62 677.95,384.7 685.2,384.5 692.45,385.26 699.7,386.18 706.95,386.7 714.2,387.22 721.45,388.02 728.7,388.02 735.95,388.1 743.2,387.1 750.45,387.1 757.7,386.42 764.95,385.74 772.2,377.98 779.45,368.84 786.7,366.86 793.95,361.78 801.2,357.02 808.45,360.4 815.7,362.98 822.95,361.78 830.2,367.14 837.45,371.62 844.7,375.12 851.95,380.5 859.2,382.96 866.45,381.78 873.7,382.18 880.95,382.58 888.2,382.78 895.45,383.26 902.7,385.04 909.95,382.66 917.2,382.42 924.45,383.08 931.7,383.32 938.95,383.24 946.2,386.18 953.45,386.3 960.7,386.94 967.95,385.82 975.2,384.9 982.45,383.32 989.7,382.8 996.95,383.08 1004.2,383.08 1011.45,383.36 1018.7,383.36"/>
<polyline fill="none" stroke="#d6d6d6" stroke-width="1.05" stroke-linejoin="round" stroke-linecap="round" points="3.7,394.9 10.95,394.8 18.2,394.86 25.45,394.92 32.7,394.82 39.95,394.88 47.2,394.94 54.45,395 61.7,395.06 68.95,394.82 76.2,394.82 83.45,394.98 90.7,394.98 97.95,394.88 105.2,395.04 112.45,394.79 119.7,394.33 126.95,394.18 134.2,393.14 141.45,392.98 148.7,391.5 155.95,390.06 163.2,389.06 170.45,388.22 177.7,387.36 184.95,387.15 192.2,387.01 199.45,386.62 206.7,387.36 213.95,387.36 221.2,388 228.45,388.44 235.7,388.04 242.95,388.12 250.2,388.18 257.45,387.9 264.7,387.3 271.95,386.98 279.2,385.59 286.45,384.61 293.7,384.31 300.95,384.05 308.2,381.21 315.45,377.99 322.7,377.14 329.95,376.09 337.2,371.02 344.45,370.94 351.7,369.25 358.95,369.59 366.2,368.86 373.45,365.88 380.7,367.79 387.95,369.94 395.2,369.74 402.45,369.68 409.7,374.47 416.95,373.82 424.2,375.74 431.45,375.5 438.7,375.3 445.95,378.1 453.2,379.83 460.45,381.26 467.7,382.61 474.95,383.86 482.2,384.8 489.45,385.93 496.7,386.79 503.95,387.43 511.2,389.06 518.45,389.56 525.7,390.1 532.95,389.06 540.2,386.57 547.45,383.79 554.7,380.61 561.95,379.81 569.2,379.41 576.45,378.91 583.7,377.95 590.95,376.7 598.2,374.31 605.45,371.93 612.7,371.64 619.95,370.94 627.2,371.47 634.45,371.69 641.7,371.65 648.95,371.75 656.2,371.97 663.45,372.96 670.7,374.55 677.95,377.47 685.2,379.55 692.45,382.77 699.7,385.22 706.95,385.66 714.2,385.96 721.45,386.26 728.7,386.64 735.95,387.14 743.2,386.9 750.45,387.16 757.7,387.22 764.95,386.88 772.2,383.04 779.45,377.97 786.7,376.98 793.95,374.1 801.2,371.38 808.45,369.19 815.7,365.91 822.95,364.32 830.2,364.46 837.45,364.32 844.7,367.76 851.95,371.74 859.2,372.37 866.45,374.46 873.7,376.9 880.95,378.85 888.2,381.64 895.45,383.11 902.7,383.41 909.95,382.42 917.2,382.5 924.45,382.93 931.7,383.29 938.95,384.14 946.2,384.42 953.45,384.36 960.7,385.01 967.95,384.57 975.2,384.07 982.45,384.75 989.7,384.55 996.95,385.01 1004.2,384.45 1011.45,384.13 1018.7,383.34"/>
<line x1="3.7" y1="468.7" x2="3.7" y2="478.7" stroke="#e22d49" stroke-width="1.3"/>
<line x1="10.95" y1="470.1" x2="10.95" y2="478.7" stroke="#e22d49" stroke-width="1.3"/>
<line x1="18.2" y1="470.1" x2="18.2" y2="478.7" stroke="#e22d49" stroke-width="1.3"/>
<line x1="25.45" y1="470.1" x2="25.45" y2="478.7" stroke="#e22d49" stroke-width="1.3"/>
<line x1="32.7" y1="471.3" x2="32.7" y2="478.7" stroke="#e22d49" stroke-width="1.3"/>
<line x1="39.95" y1="471.3" x2="39.95" y2="478.7" stroke="#e22d49" stroke-width="1.3"/>
<line x1="47.2" y1="471.3" x2="47.2" y2="478.7" stroke="#e22d49" stroke-width="1.3"/>
<line x1="54.45" y1="474.1" x2="54.45" y2="478.7" stroke="#e22d49" stroke-width="1.3"/>
<line x1="61.7" y1="475.3" x2="61.7" y2="478.7" stroke="#e22d49" stroke-width="1.3"/>
<line x1="68.95" y1="474.1" x2="68.95" y2="478.7" stroke="#e22d49" stroke-width="1.3"/>
<line x1="76.2" y1="474.1" x2="76.2" y2="478.7" stroke="#e22d49" stroke-width="1.3"/>
<line x1="83.45" y1="474.1" x2="83.45" y2="478.7" stroke="#e22d49" stroke-width="1.3"/>
<line x1="90.7" y1="474.1" x2="90.7" y2="478.7" stroke="#e22d49" stroke-width="1.3"/>
<line x1="97.95" y1="471.3" x2="97.95" y2="478.7" stroke="#e22d49" stroke-width="1.3"/>
<line x1="105.2" y1="470.1" x2="105.2" y2="478.7" stroke="#e22d49" stroke-width="1.3"/>
<line x1="112.45" y1="466.1" x2="112.45" y2="478.7" stroke="#e22d49" stroke-width="1.3"/>
<line x1="119.7" y1="466.1" x2="119.7" y2="478.7" stroke="#e22d49" stroke-width="1.3"/>
<line x1="126.95" y1="459.8" x2="126.95" y2="478.7" stroke="#e22d49" stroke-width="1.3"/>
<line x1="134.2" y1="454.8" x2="134.2" y2="478.7" stroke="#e22d49" stroke-width="1.3"/>
<line x1="141.45" y1="454.8" x2="141.45" y2="478.7" stroke="#e22d49" stroke-width="1.3"/>
<line x1="148.7" y1="453.4" x2="148.7" y2="478.7" stroke="#e22d49" stroke-width="1.3"/>
<line x1="155.95" y1="449.4" x2="155.95" y2="478.7" stroke="#e22d49" stroke-width="1.3"/>
<line x1="163.2" y1="450.2" x2="163.2" y2="478.7" stroke="#e22d49" stroke-width="1.3"/>
<line x1="170.45" y1="453.4" x2="170.45" y2="478.7" stroke="#e22d49" stroke-width="1.3"/>
<line x1="177.7" y1="460.8" x2="177.7" y2="478.7" stroke="#e22d49" stroke-width="1.3"/>
<line x1="184.95" y1="468.7" x2="184.95" y2="478.7" stroke="#e22d49" stroke-width="1.3"/>
<line x1="192.2" y1="479.5" x2="192.2" y2="482.6" stroke="#2da766" stroke-width="1.3"/>
<line x1="199.45" y1="479.5" x2="199.45" y2="488.6" stroke="#2da766" stroke-width="1.3"/>
<line x1="206.7" y1="479.5" x2="206.7" y2="492" stroke="#2da766" stroke-width="1.3"/>
<line x1="213.95" y1="479.5" x2="213.95" y2="495.5" stroke="#2da766" stroke-width="1.3"/>
<line x1="221.2" y1="479.5" x2="221.2" y2="497.1" stroke="#2da766" stroke-width="1.3"/>
<line x1="228.45" y1="479.5" x2="228.45" y2="494" stroke="#2da766" stroke-width="1.3"/>
<line x1="235.7" y1="479.5" x2="235.7" y2="488.6" stroke="#2da766" stroke-width="1.3"/>
<line x1="242.95" y1="479.5" x2="242.95" y2="486.6" stroke="#2da766" stroke-width="1.3"/>
<line x1="250.2" y1="479.5" x2="250.2" y2="483.6" stroke="#2da766" stroke-width="1.3"/>
<line x1="257.45" y1="479.5" x2="257.45" y2="482.6" stroke="#2da766" stroke-width="1.3"/>
<line x1="264.7" y1="479.5" x2="264.7" y2="482.6" stroke="#2da766" stroke-width="1.3"/>
<line x1="271.95" y1="479.5" x2="271.95" y2="484.6" stroke="#2da766" stroke-width="1.3"/>
<line x1="279.2" y1="479.5" x2="279.2" y2="482.6" stroke="#2da766" stroke-width="1.3"/>
<line x1="286.45" y1="479.5" x2="286.45" y2="482.6" stroke="#2da766" stroke-width="1.3"/>
<line x1="293.7" y1="479.5" x2="293.7" y2="481.6" stroke="#2da766" stroke-width="1.3"/>
<line x1="300.95" y1="479.5" x2="300.95" y2="480" stroke="#2da766" stroke-width="1.3"/>
<line x1="308.2" y1="479.5" x2="308.2" y2="481.6" stroke="#2da766" stroke-width="1.3"/>
<line x1="315.45" y1="479.5" x2="315.45" y2="481.6" stroke="#2da766" stroke-width="1.3"/>
<line x1="322.7" y1="479.5" x2="322.7" y2="480" stroke="#2da766" stroke-width="1.3"/>
<line x1="329.95" y1="477" x2="329.95" y2="478.7" stroke="#e22d49" stroke-width="1.3"/>
<line x1="337.2" y1="479.5" x2="337.2" y2="481.6" stroke="#2da766" stroke-width="1.3"/>
<line x1="344.45" y1="479.5" x2="344.45" y2="485.2" stroke="#2da766" stroke-width="1.3"/>
<line x1="351.7" y1="479.5" x2="351.7" y2="491.2" stroke="#2da766" stroke-width="1.3"/>
<line x1="358.95" y1="479.5" x2="358.95" y2="494" stroke="#2da766" stroke-width="1.3"/>
<line x1="366.2" y1="479.5" x2="366.2" y2="496" stroke="#2da766" stroke-width="1.3"/>
<line x1="373.45" y1="479.5" x2="373.45" y2="501.1" stroke="#2da766" stroke-width="1.3"/>
<line x1="380.7" y1="479.5" x2="380.7" y2="501.9" stroke="#2da766" stroke-width="1.3"/>
<line x1="387.95" y1="479.5" x2="387.95" y2="499.1" stroke="#2da766" stroke-width="1.3"/>
<line x1="395.2" y1="479.5" x2="395.2" y2="497.1" stroke="#2da766" stroke-width="1.3"/>
<line x1="402.45" y1="479.5" x2="402.45" y2="494.6" stroke="#2da766" stroke-width="1.3"/>
<line x1="409.7" y1="479.5" x2="409.7" y2="489.6" stroke="#2da766" stroke-width="1.3"/>
<line x1="416.95" y1="479.5" x2="416.95" y2="484.6" stroke="#2da766" stroke-width="1.3"/>
<line x1="424.2" y1="479.5" x2="424.2" y2="481.6" stroke="#2da766" stroke-width="1.3"/>
<line x1="431.45" y1="479.5" x2="431.45" y2="480" stroke="#2da766" stroke-width="1.3"/>
<line x1="438.7" y1="479.5" x2="438.7" y2="480.3" stroke="#2da766" stroke-width="1.3"/>
<line x1="445.95" y1="479.5" x2="445.95" y2="481.6" stroke="#2da766" stroke-width="1.3"/>
<line x1="453.2" y1="479.5" x2="453.2" y2="483.6" stroke="#2da766" stroke-width="1.3"/>
<line x1="460.45" y1="479.5" x2="460.45" y2="486.6" stroke="#2da766" stroke-width="1.3"/>
<line x1="467.7" y1="479.5" x2="467.7" y2="489.6" stroke="#2da766" stroke-width="1.3"/>
<line x1="474.95" y1="479.5" x2="474.95" y2="487.6" stroke="#2da766" stroke-width="1.3"/>
<line x1="482.2" y1="479.5" x2="482.2" y2="488.6" stroke="#2da766" stroke-width="1.3"/>
<line x1="489.45" y1="479.5" x2="489.45" y2="489.6" stroke="#2da766" stroke-width="1.3"/>
<line x1="496.7" y1="479.5" x2="496.7" y2="490.6" stroke="#2da766" stroke-width="1.3"/>
<line x1="503.95" y1="479.5" x2="503.95" y2="491.6" stroke="#2da766" stroke-width="1.3"/>
<line x1="511.2" y1="479.5" x2="511.2" y2="490" stroke="#2da766" stroke-width="1.3"/>
<line x1="518.45" y1="479.5" x2="518.45" y2="490.6" stroke="#2da766" stroke-width="1.3"/>
<line x1="525.7" y1="479.5" x2="525.7" y2="489.6" stroke="#2da766" stroke-width="1.3"/>
<line x1="532.95" y1="479.5" x2="532.95" y2="486.6" stroke="#2da766" stroke-width="1.3"/>
<line x1="540.2" y1="479.5" x2="540.2" y2="486.6" stroke="#2da766" stroke-width="1.3"/>
<line x1="547.45" y1="479.5" x2="547.45" y2="486" stroke="#2da766" stroke-width="1.3"/>
<line x1="554.7" y1="479.5" x2="554.7" y2="486.6" stroke="#2da766" stroke-width="1.3"/>
<line x1="561.95" y1="479.5" x2="561.95" y2="485.2" stroke="#2da766" stroke-width="1.3"/>
<line x1="569.2" y1="479.5" x2="569.2" y2="482.6" stroke="#2da766" stroke-width="1.3"/>
<line x1="576.45" y1="479.5" x2="576.45" y2="480" stroke="#2da766" stroke-width="1.3"/>
<line x1="583.7" y1="476.7" x2="583.7" y2="478.7" stroke="#e22d49" stroke-width="1.3"/>
<line x1="590.95" y1="474.1" x2="590.95" y2="478.7" stroke="#e22d49" stroke-width="1.3"/>
<line x1="598.2" y1="472.1" x2="598.2" y2="478.7" stroke="#e22d49" stroke-width="1.3"/>
<line x1="605.45" y1="472.1" x2="605.45" y2="478.7" stroke="#e22d49" stroke-width="1.3"/>
<line x1="612.7" y1="473.3" x2="612.7" y2="478.7" stroke="#e22d49" stroke-width="1.3"/>
<line x1="619.95" y1="473.3" x2="619.95" y2="478.7" stroke="#e22d49" stroke-width="1.3"/>
<line x1="627.2" y1="473.3" x2="627.2" y2="478.7" stroke="#e22d49" stroke-width="1.3"/>
<line x1="634.45" y1="472.1" x2="634.45" y2="478.7" stroke="#e22d49" stroke-width="1.3"/>
<line x1="641.7" y1="472.1" x2="641.7" y2="478.7" stroke="#e22d49" stroke-width="1.3"/>
<line x1="648.95" y1="472.1" x2="648.95" y2="478.7" stroke="#e22d49" stroke-width="1.3"/>
<line x1="656.2" y1="473.3" x2="656.2" y2="478.7" stroke="#e22d49" stroke-width="1.3"/>
<line x1="663.45" y1="473.3" x2="663.45" y2="478.7" stroke="#e22d49" stroke-width="1.3"/>
<line x1="670.7" y1="475.7" x2="670.7" y2="478.7" stroke="#e22d49" stroke-width="1.3"/>
<line x1="677.95" y1="479.5" x2="677.95" y2="480.2" stroke="#2da766" stroke-width="1.3"/>
<line x1="685.2" y1="477.5" x2="685.2" y2="478.7" stroke="#e22d49" stroke-width="1.3"/>
<line x1="692.45" y1="477.5" x2="692.45" y2="478.7" stroke="#e22d49" stroke-width="1.3"/>
<line x1="699.7" y1="479.5" x2="699.7" y2="480.2" stroke="#2da766" stroke-width="1.3"/>
<line x1="706.95" y1="477.5" x2="706.95" y2="478.7" stroke="#e22d49" stroke-width="1.3"/>
<line x1="714.2" y1="476.3" x2="714.2" y2="478.7" stroke="#e22d49" stroke-width="1.3"/>
<line x1="721.45" y1="475.7" x2="721.45" y2="478.7" stroke="#e22d49" stroke-width="1.3"/>
<line x1="728.7" y1="473.3" x2="728.7" y2="478.7" stroke="#e22d49" stroke-width="1.3"/>
<line x1="735.95" y1="472.1" x2="735.95" y2="478.7" stroke="#e22d49" stroke-width="1.3"/>
<line x1="743.2" y1="471.3" x2="743.2" y2="478.7" stroke="#e22d49" stroke-width="1.3"/>
<line x1="750.45" y1="470.1" x2="750.45" y2="478.7" stroke="#e22d49" stroke-width="1.3"/>
<line x1="757.7" y1="469.3" x2="757.7" y2="478.7" stroke="#e22d49" stroke-width="1.3"/>
<line x1="764.95" y1="465.3" x2="764.95" y2="478.7" stroke="#e22d49" stroke-width="1.3"/>
<line x1="772.2" y1="462.1" x2="772.2" y2="478.7" stroke="#e22d49" stroke-width="1.3"/>
<line x1="779.45" y1="461.4" x2="779.45" y2="478.7" stroke="#e22d49" stroke-width="1.3"/>
<line x1="786.7" y1="461.4" x2="786.7" y2="478.7" stroke="#e22d49" stroke-width="1.3"/>
<line x1="793.95" y1="456.8" x2="793.95" y2="478.7" stroke="#e22d49" stroke-width="1.3"/>
<line x1="801.2" y1="449.8" x2="801.2" y2="478.7" stroke="#e22d49" stroke-width="1.3"/>
<line x1="808.45" y1="449.8" x2="808.45" y2="478.7" stroke="#e22d49" stroke-width="1.3"/>
<line x1="815.7" y1="449.4" x2="815.7" y2="478.7" stroke="#e22d49" stroke-width="1.3"/>
<line x1="822.95" y1="454.8" x2="822.95" y2="478.7" stroke="#e22d49" stroke-width="1.3"/>
<line x1="830.2" y1="457.8" x2="830.2" y2="478.7" stroke="#e22d49" stroke-width="1.3"/>
<line x1="837.45" y1="462.7" x2="837.45" y2="478.7" stroke="#e22d49" stroke-width="1.3"/>
<line x1="844.7" y1="468.1" x2="844.7" y2="478.7" stroke="#e22d49" stroke-width="1.3"/>
<line x1="851.95" y1="470.1" x2="851.95" y2="478.7" stroke="#e22d49" stroke-width="1.3"/>
<line x1="859.2" y1="471.3" x2="859.2" y2="478.7" stroke="#e22d49" stroke-width="1.3"/>
<line x1="866.45" y1="471.3" x2="866.45" y2="478.7" stroke="#e22d49" stroke-width="1.3"/>
<line x1="873.7" y1="473.3" x2="873.7" y2="478.7" stroke="#e22d49" stroke-width="1.3"/>
<line x1="880.95" y1="473.3" x2="880.95" y2="478.7" stroke="#e22d49" stroke-width="1.3"/>
<line x1="888.2" y1="475.7" x2="888.2" y2="478.7" stroke="#e22d49" stroke-width="1.3"/>
<line x1="895.45" y1="479.5" x2="895.45" y2="480.6" stroke="#2da766" stroke-width="1.3"/>
<line x1="902.7" y1="479.5" x2="902.7" y2="483.2" stroke="#2da766" stroke-width="1.3"/>
<line x1="909.95" y1="479.5" x2="909.95" y2="488.6" stroke="#2da766" stroke-width="1.3"/>
<line x1="917.2" y1="479.5" x2="917.2" y2="490.6" stroke="#2da766" stroke-width="1.3"/>
<line x1="924.45" y1="479.5" x2="924.45" y2="493.6" stroke="#2da766" stroke-width="1.3"/>
<line x1="931.7" y1="479.5" x2="931.7" y2="497.9" stroke="#2da766" stroke-width="1.3"/>
<line x1="938.95" y1="479.5" x2="938.95" y2="501.5" stroke="#2da766" stroke-width="1.3"/>
<line x1="946.2" y1="479.5" x2="946.2" y2="498.5" stroke="#2da766" stroke-width="1.3"/>
<line x1="953.45" y1="479.5" x2="953.45" y2="494.6" stroke="#2da766" stroke-width="1.3"/>
<line x1="960.7" y1="479.5" x2="960.7" y2="491.6" stroke="#2da766" stroke-width="1.3"/>
<line x1="967.95" y1="479.5" x2="967.95" y2="485.6" stroke="#2da766" stroke-width="1.3"/>
<line x1="975.2" y1="479.5" x2="975.2" y2="482.6" stroke="#2da766" stroke-width="1.3"/>
<line x1="982.45" y1="479.5" x2="982.45" y2="482.6" stroke="#2da766" stroke-width="1.3"/>
<line x1="989.7" y1="479.5" x2="989.7" y2="483.6" stroke="#2da766" stroke-width="1.3"/>
<line x1="996.95" y1="479.5" x2="996.95" y2="482.6" stroke="#2da766" stroke-width="1.3"/>
<line x1="1004.2" y1="479.5" x2="1004.2" y2="480.2" stroke="#2da766" stroke-width="1.3"/>
<line x1="1011.45" y1="479.5" x2="1011.45" y2="480.5" stroke="#2da766" stroke-width="1.3"/>
<line x1="1018.7" y1="479.5" x2="1018.7" y2="486.6" stroke="#2da766" stroke-width="1.3"/>
<polyline fill="none" stroke="#cacaca" stroke-width="1.2" stroke-linejoin="round" stroke-linecap="round" points="3.7,466.7 10.9,466.1 25.4,464.1 40,462.7 47.2,462.1 61.7,463.3 76.2,462.7 90.7,461.4 98,458.8 105.2,456.8 112.5,453.8 119.7,451.8 127,445.8 134.2,441.5 141.3,438.3 148.7,433.5 156,428.3 162,426 178,426 184.9,430.3 192.2,437.5 200,440.2 206.8,443.8 214,447.8 221.3,451.4 228.5,451.4 235.8,450.2 243,449.8 250.3,448.8 257.5,448.2 264.8,448.8 272,450.8 279.3,449.8 286.5,450.2 293.8,450.2 301,450.2 308.3,451.4 315.5,451.8 322.8,450.8 330,448.8 337.3,451.4 344.5,453.8 351.8,457.8 359,461.7 366.3,464.7 373.5,469.7 380.8,473.3 388,475.3 395.3,477.3 402.6,477.9 410,475.7 417,473.3 424.3,472.1 431.5,472.1 438.8,472.1 446,473.3 453.3,475.3 460.6,478.6 467.8,480.6 475,481.2 482.3,483.2 489.5,484.6 496.8,487.2 504,489.2 511.3,490 518.5,491.6 525.8,492.6 533,492.6 540.4,492.6 547.5,492.6 554.9,494.6 562,494.6 569.4,493.6 576.5,492 583.9,490.6 591,488.6 598.2,487.4 612.7,487.2 627.3,485.2 634.5,483.6 649,482.6 663.5,481.6 670.8,483.2 680,484 700,484 719.3,483.6 728.8,480.6 736,479.6 743.3,478.6 750.5,477.3 757.8,476.1 765,472.1 772.4,467.7 779.5,466.1 786.9,462.7 794,459.8 801.2,452 808.5,448.2 815.8,444.3 823,444.9 830.2,443.5 837.6,444.9 844.7,445.8 852.1,445.8 859.2,445.8 866.6,444.3 873.8,444.9 881.1,444.9 888.3,445.8 895.6,447.8 902.8,450.8 909.9,454.8 917.3,456.8 924.5,460.8 931.8,464.7 939,468.7 946.3,470.7 953.5,470.1 960.8,470.7 968,468.1 975.4,466.7 982.5,467.7 989.9,468.1 997,468.1 1004.2,466.7 1011.5,466.7 1018.7,471.3"/>
<polyline fill="none" stroke="#acac58" stroke-width="1.2" stroke-linejoin="round" stroke-linecap="round" points="3.7,470.7 10.9,469.7 25.4,467.7 40,466.1 54.5,464.7 69,464.1 83.5,463.3 98,461.7 112.5,459.4 127,455.4 141.3,449.8 156,442.9 170.4,436.9 184.9,433.9 192.2,434.3 200,434.9 214,439.9 228.4,443.9 243.1,445.8 257.5,446.8 272,447.8 286.5,448.8 301,449.8 315.5,450.2 330,449.4 344.5,451.4 359,454.2 373.5,458.8 388,464.7 402.6,469.3 410,470.7 424.3,472.1 438.8,472.1 453.3,473.3 467.8,476.1 482.3,478.1 496.8,480.6 511.3,483.6 525.8,486.6 540.4,488.6 554.9,490.6 569.4,491.6 583.9,490.6 598.2,489.4 612.7,488.6 620,488.4 640,486 660,484.6 680,484 700,484 719.3,483.6 729.2,482.6 743.1,480.6 757.8,479.2 765,478.1 772.4,476.1 779.5,474.1 786.9,472.7 794,469.3 801.2,465.7 808.5,461.6 815.8,458.6 823,455.8 830.2,453.4 837.6,451.4 844.7,449.8 852.1,448.8 859.2,447.8 866.6,446.8 873.8,446.2 881.1,445.8 888.3,445.8 895.6,446.2 902.8,447.4 909.9,448.8 917.3,450.2 924.5,452.2 931.8,454.8 939,457.4 946.3,460.2 953.5,461.7 960.8,463.3 968,464.7 975.4,465.7 982.5,466.1 989.9,466.7 997,467.3 1004.2,466.7 1011.5,466.7 1018.7,468.7"/>
<text x="-0.7" y="19.5" fill="#d4d4d4" font-size="16" textLength="32" lengthAdjust="spacingAndGlyphs" text-anchor="start" style="font-family:'Liberation Sans','Noto Sans CJK SC',sans-serif">日线</text>
<text x="41.5" y="19.5" fill="#d4d4d4" font-size="16" textLength="99" lengthAdjust="spacingAndGlyphs" text-anchor="start" style="font-family:'Liberation Sans','Noto Sans CJK SC',sans-serif">科创人工智能</text>
<text x="142" y="19" fill="#d4d4d4" font-size="17.6" textLength="31" lengthAdjust="spacingAndGlyphs" text-anchor="start">ETF</text>
<text x="173" y="19.5" fill="#d4d4d4" font-size="16" textLength="32" lengthAdjust="spacingAndGlyphs" text-anchor="start" style="font-family:'Liberation Sans','Noto Sans CJK SC',sans-serif">华夏</text>
<text x="211.5" y="19" fill="#dedede" font-size="17.6" textLength="83" lengthAdjust="spacingAndGlyphs" text-anchor="start">MA5: 1.596</text>
<text x="301.5" y="19" fill="#acac58" font-size="17.6" textLength="90.5" lengthAdjust="spacingAndGlyphs" text-anchor="start">MA10: 1.601</text>
<text x="399.5" y="19" fill="#d6357c" font-size="17.6" textLength="91.5" lengthAdjust="spacingAndGlyphs" text-anchor="start">MA20: 1.590</text>
<text x="497.5" y="19" fill="#27a627" font-size="17.6" textLength="92" lengthAdjust="spacingAndGlyphs" text-anchor="start">MA30: 1.598</text>
<text x="596" y="19" fill="#c6c6c6" font-size="17.6" textLength="92" lengthAdjust="spacingAndGlyphs" text-anchor="start">MA60: 1.488</text>
<text x="763.2" y="54.5" fill="#ececec" font-size="16.5" textLength="200.5" lengthAdjust="spacingAndGlyphs" text-anchor="start">20250730-20260303 (141)</text>
<line x1="763" y1="57.2" x2="964.3" y2="57.2" stroke="#ececec" stroke-width="1.2"/>
<g fill="none" stroke="#c4c4c4" stroke-width="1.5" stroke-linejoin="round" stroke-linecap="round"><rect x="968.8" y="50.4" width="13.2" height="8.2" rx="1.6"/><path d="M971.2,50.2 V48.2 A4.1,3.9 0 0 1 979.4,47.6"/></g><rect x="974.3" y="53.2" width="2" height="2.8" fill="#c4c4c4"/>
<text x="1044.8" y="32.2" fill="#e82f4c" font-size="17.6" textLength="40.3" lengthAdjust="spacingAndGlyphs" text-anchor="start">1.727</text>
<text x="1044.8" y="142.2" fill="#e82f4c" font-size="17.6" textLength="40.3" lengthAdjust="spacingAndGlyphs" text-anchor="start">1.481</text>
<text x="1044.8" y="227.1" fill="#e82f4c" font-size="17.6" textLength="40.3" lengthAdjust="spacingAndGlyphs" text-anchor="start">1.232</text>
<text x="1044.9" y="338.3" fill="#dd3a3a" font-size="16.6" textLength="36.2" lengthAdjust="spacingAndGlyphs" text-anchor="start">3030</text>
<text x="1044.9" y="371.8" fill="#dd3a3a" font-size="16.6" textLength="36.2" lengthAdjust="spacingAndGlyphs" text-anchor="start">1515</text>
<rect x="1043.5" y="380.5" width="50" height="18" fill="none" stroke="#33353a" stroke-width="1"/>
<text x="1044.4" y="395.6" fill="#dd3a3a" font-size="17.6" textLength="47.5" lengthAdjust="spacingAndGlyphs" text-anchor="start">X1000</text>
<text x="1044.7" y="432.3" fill="#e82f4c" font-size="17.6" textLength="49" lengthAdjust="spacingAndGlyphs" text-anchor="start">+0.110</text>
<text x="1044.7" y="470.2" fill="#e82f4c" font-size="17.6" textLength="49" lengthAdjust="spacingAndGlyphs" text-anchor="start">+0.031</text>
<text x="-0.4" y="325.4" fill="#4bb5c4" font-size="16" textLength="31.6" lengthAdjust="spacingAndGlyphs" text-anchor="start" style="font-family:'Liberation Sans','Noto Sans CJK SC',sans-serif">总手</text>
<text x="31.8" y="325.2" fill="#4aa9c8" font-size="17.2" textLength="64.2" lengthAdjust="spacingAndGlyphs" text-anchor="start">: 867988</text>
<text x="102" y="325.2" fill="#acac58" font-size="17.2" textLength="131" lengthAdjust="spacingAndGlyphs" text-anchor="start">MAVOL5: 639777</text>
<text x="238.5" y="325.2" fill="#d4d4d4" font-size="17.2" textLength="125.5" lengthAdjust="spacingAndGlyphs" text-anchor="start">MAVOL10: 65.22</text>
<text x="364" y="325.6" fill="#d4d4d4" font-size="16" text-anchor="start" style="font-family:'Liberation Sans','Noto Sans CJK SC',sans-serif">万</text>
<path d="M923.5,307 V331.5 H1042.5" fill="none" stroke="#33353a" stroke-width="1"/>
<text x="956.6" y="327.3" fill="#c8c8c8" font-size="16" textLength="48.6" lengthAdjust="spacingAndGlyphs" text-anchor="start" style="font-family:'Liberation Sans','Noto Sans CJK SC',sans-serif">成交量</text>
<path d="M1028.2,317.1 H1036.6 L1032.4,322.8 Z" fill="#d6d6d6"/>
<path d="M957.5,399 V425 H1042.5" fill="none" stroke="#33353a" stroke-width="1"/>
<text x="965" y="420" fill="#c8c8c8" font-size="16" textLength="65.5" lengthAdjust="spacingAndGlyphs" text-anchor="start" style="font-family:'Liberation Sans','Noto Sans CJK SC',sans-serif">指标说明</text>
<text x="-0.3" y="418.4" fill="#d4d4d4" font-size="16.9" textLength="113.2" lengthAdjust="spacingAndGlyphs" text-anchor="start">MACD(12,26,9)</text>
<text x="119.8" y="418.4" fill="#2da766" font-size="16.9" textLength="103" lengthAdjust="spacingAndGlyphs" text-anchor="start">MACD: -0.016</text>
<text x="229.3" y="418.4" fill="#d4d4d4" font-size="16.9" textLength="94" lengthAdjust="spacingAndGlyphs" text-anchor="start">DIFF: +0.015</text>
<text x="329.3" y="418.4" fill="#acac58" font-size="16.9" textLength="93.5" lengthAdjust="spacingAndGlyphs" text-anchor="start">DEA: +0.022</text>
<text x="0.2" y="518.7" fill="#e6e6e6" font-size="17.3" textLength="40.4" lengthAdjust="spacingAndGlyphs" text-anchor="start">25.07</text>
<text x="76.4" y="518.7" fill="#e6e6e6" font-size="17.3" textLength="40.4" lengthAdjust="spacingAndGlyphs" text-anchor="start">25.08</text>
<text x="170.6" y="518.7" fill="#e6e6e6" font-size="17.3" textLength="40.4" lengthAdjust="spacingAndGlyphs" text-anchor="start">25.09</text>
<text x="329.5" y="518.7" fill="#e6e6e6" font-size="17.3" textLength="40.4" lengthAdjust="spacingAndGlyphs" text-anchor="start">25.10</text>
<text x="453.4" y="518.7" fill="#e6e6e6" font-size="17.3" textLength="40.4" lengthAdjust="spacingAndGlyphs" text-anchor="start">25.11</text>
<text x="598.2" y="518.7" fill="#e6e6e6" font-size="17.3" textLength="40.4" lengthAdjust="spacingAndGlyphs" text-anchor="start">25.12</text>
<text x="764.6" y="518.7" fill="#e6e6e6" font-size="17.3" textLength="40.4" lengthAdjust="spacingAndGlyphs" text-anchor="start">26.01</text>
<text x="909.5" y="518.7" fill="#e6e6e6" font-size="17.3" textLength="40.4" lengthAdjust="spacingAndGlyphs" text-anchor="start">26.02</text>
<text x="1011.8" y="518.7" fill="#e6e6e6" font-size="17.3" textLength="40.4" lengthAdjust="spacingAndGlyphs" text-anchor="start">26.03</text>
<rect x="0" y="522" width="1107" height="2" fill="#0d0e11"/>
<rect x="1105.9" y="0" width="1.1" height="524" fill="#0f1013"/>
</svg>
</body></html>
